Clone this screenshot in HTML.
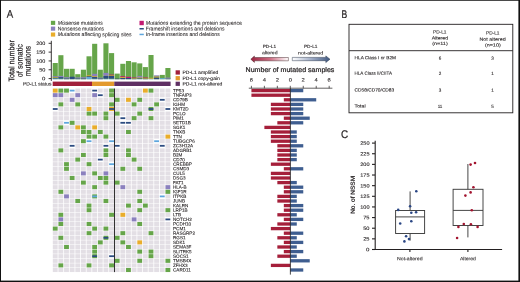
<!DOCTYPE html>
<html><head><meta charset="utf-8"><style>
html,body{margin:0;padding:0;background:#fff;}
body{width:520px;height:282px;overflow:hidden;}
svg{display:block;will-change:transform;}
text{font-family:"Liberation Sans",sans-serif;fill:#231f20;stroke:#231f20;stroke-width:0.1px;}
.b{stroke:#231f20;stroke-width:0.22px;}
.b2{stroke:#231f20;stroke-width:0.06px;}
</style></head><body>
<svg width="520" height="282" viewBox="0 0 520 282">
<rect x="0" y="0" width="520" height="282" fill="#fff"/>
<rect x="0" y="0" width="520" height="1" fill="#4a4a4a"/>
<rect x="0" y="0" width="1" height="282" fill="#111"/>
<rect x="518.4" y="0" width="1.6" height="282" fill="#111"/>
<rect x="0" y="280.6" width="520" height="1.4" fill="#111"/>
<text x="6.84" y="17.70" font-size="11.2" transform="rotate(0.05 6.84 17.70)" textLength="6.42" lengthAdjust="spacingAndGlyphs" class="b">A</text>
<text x="341.44" y="18.00" font-size="11.2" transform="rotate(0.05 341.44 18.00)" textLength="5.72" lengthAdjust="spacingAndGlyphs" class="b">B</text>
<text x="340.94" y="138.10" font-size="11.2" transform="rotate(0.05 340.94 138.10)" textLength="7.12" lengthAdjust="spacingAndGlyphs" class="b">C</text>

<rect x="50.9" y="20.8" width="4.3" height="4.1" fill="#66a54a"/>
<rect x="50.9" y="26.6" width="4.3" height="4.1" fill="#8b80be"/>
<rect x="50.9" y="32.5" width="4.3" height="4.1" fill="#e9ad2b"/>
<text x="57.83" y="24.70" font-size="5.4" transform="rotate(0.05 57.83 24.70)" textLength="44.94" lengthAdjust="spacingAndGlyphs" class="b2"><tspan font-style="italic">Missense</tspan> mutations</text>
<text x="57.83" y="30.40" font-size="5.4" transform="rotate(0.05 57.83 30.40)" textLength="46.34" lengthAdjust="spacingAndGlyphs" class="b2">Nonsense mutations</text>
<text x="57.83" y="36.10" font-size="5.4" transform="rotate(0.05 57.83 36.10)" textLength="73.64" lengthAdjust="spacingAndGlyphs" class="b2"><tspan font-style="italic">Mutations</tspan> affecting splicing sites</text>
<rect x="139.5" y="20.8" width="4.3" height="4.4" fill="#c21a72"/>
<rect x="139.5" y="28" width="4.3" height="1.5" fill="#2c4b80"/>
<rect x="139.5" y="33.7" width="4.3" height="1.5" fill="#5ea6dd"/>
<text x="145.83" y="24.70" font-size="5.4" transform="rotate(0.05 145.83 24.70)" textLength="96.04" lengthAdjust="spacingAndGlyphs" class="b2"><tspan font-style="italic">Mutations</tspan> extending the protein sequence</text>
<text x="145.83" y="30.50" font-size="5.4" transform="rotate(0.05 145.83 30.50)" textLength="78.74" lengthAdjust="spacingAndGlyphs" class="b2">Frameshift insertions and deletions</text>
<text x="145.83" y="35.90" font-size="5.4" transform="rotate(0.05 145.83 35.90)" textLength="73.94" lengthAdjust="spacingAndGlyphs" class="b2">In-frame insertions and deletions</text>

<text transform="translate(14.30,60.80) rotate(-89.95)" x="0" y="0" font-size="8.1" text-anchor="middle" textLength="41.61" lengthAdjust="spacingAndGlyphs" class="b">Total number</text>
<text transform="translate(22.60,60.65) rotate(-89.95)" x="0" y="0" font-size="8.1" text-anchor="middle" textLength="33.11" lengthAdjust="spacingAndGlyphs" class="b">of somatic</text>
<text transform="translate(30.60,61.10) rotate(-89.95)" x="0" y="0" font-size="8.1" text-anchor="middle" textLength="30.41" lengthAdjust="spacingAndGlyphs" class="b">mutations</text>
<g stroke="#231f20" stroke-width="0.9">
<line x1="51.3" y1="40.8" x2="51.3" y2="80.9"/>
<line x1="48.6" y1="78.60" x2="51.3" y2="78.60"/><line x1="48.6" y1="69.77" x2="51.3" y2="69.77"/><line x1="48.6" y1="60.95" x2="51.3" y2="60.95"/><line x1="48.6" y1="52.12" x2="51.3" y2="52.12"/><line x1="48.6" y1="43.30" x2="51.3" y2="43.30"/>
</g>
<text x="45.40" y="80.35" font-size="4.9" transform="rotate(0.05 45.40 80.35)" textLength="3.36" lengthAdjust="spacingAndGlyphs" text-anchor="end">0</text><text x="45.40" y="71.52" font-size="4.9" transform="rotate(0.05 45.40 71.52)" textLength="6.23" lengthAdjust="spacingAndGlyphs" text-anchor="end">50</text><text x="45.40" y="62.70" font-size="4.9" transform="rotate(0.05 45.40 62.70)" textLength="9.10" lengthAdjust="spacingAndGlyphs" text-anchor="end">100</text><text x="45.40" y="53.88" font-size="4.9" transform="rotate(0.05 45.40 53.88)" textLength="9.10" lengthAdjust="spacingAndGlyphs" text-anchor="end">150</text><text x="45.40" y="45.05" font-size="4.9" transform="rotate(0.05 45.40 45.05)" textLength="9.10" lengthAdjust="spacingAndGlyphs" text-anchor="end">200</text>
<rect x="52.70" y="63.00" width="5.1" height="16.20" fill="#66a54a"/><rect x="52.70" y="78.40" width="5.1" height="0.80" fill="#5ea6dd"/><rect x="52.70" y="77.60" width="5.1" height="0.80" fill="#2c4b80"/><rect x="52.70" y="77.00" width="5.1" height="0.60" fill="#e9ad2b"/><rect x="52.70" y="76.20" width="5.1" height="0.80" fill="#8b80be"/><rect x="58.33" y="55.20" width="5.1" height="24.00" fill="#66a54a"/><rect x="58.33" y="78.60" width="5.1" height="0.60" fill="#5ea6dd"/><rect x="58.33" y="77.10" width="5.1" height="1.50" fill="#2c4b80"/><rect x="58.33" y="75.90" width="5.1" height="1.20" fill="#8b80be"/><rect x="63.97" y="68.80" width="5.1" height="10.40" fill="#66a54a"/><rect x="63.97" y="78.40" width="5.1" height="0.80" fill="#2c4b80"/><rect x="63.97" y="77.20" width="5.1" height="1.20" fill="#8b80be"/><rect x="69.60" y="68.80" width="5.1" height="10.40" fill="#66a54a"/><rect x="69.60" y="76.70" width="5.1" height="2.50" fill="#2c4b80"/><rect x="75.23" y="74.20" width="5.1" height="5.00" fill="#66a54a"/><rect x="75.23" y="78.40" width="5.1" height="0.80" fill="#2c4b80"/><rect x="75.23" y="77.40" width="5.1" height="1.00" fill="#8b80be"/><rect x="80.87" y="69.70" width="5.1" height="9.50" fill="#66a54a"/><rect x="80.87" y="78.40" width="5.1" height="0.80" fill="#2c4b80"/><rect x="80.87" y="77.20" width="5.1" height="1.20" fill="#8b80be"/><rect x="86.50" y="56.30" width="5.1" height="22.90" fill="#66a54a"/><rect x="86.50" y="77.00" width="5.1" height="2.20" fill="#5ea6dd"/><rect x="86.50" y="76.20" width="5.1" height="0.80" fill="#2c4b80"/><rect x="86.50" y="75.40" width="5.1" height="0.80" fill="#e9ad2b"/><rect x="92.13" y="43.80" width="5.1" height="35.40" fill="#66a54a"/><rect x="92.13" y="78.60" width="5.1" height="0.60" fill="#5ea6dd"/><rect x="92.13" y="77.00" width="5.1" height="1.60" fill="#2c4b80"/><rect x="92.13" y="76.20" width="5.1" height="0.80" fill="#e9ad2b"/><rect x="92.13" y="73.80" width="5.1" height="2.40" fill="#8b80be"/><rect x="97.76" y="69.70" width="5.1" height="9.50" fill="#66a54a"/><rect x="97.76" y="78.40" width="5.1" height="0.80" fill="#2c4b80"/><rect x="97.76" y="77.60" width="5.1" height="0.80" fill="#8b80be"/><rect x="103.40" y="43.30" width="5.1" height="35.90" fill="#66a54a"/><rect x="103.40" y="78.60" width="5.1" height="0.60" fill="#5ea6dd"/><rect x="103.40" y="76.00" width="5.1" height="2.60" fill="#2c4b80"/><rect x="103.40" y="75.70" width="5.1" height="0.30" fill="#e9ad2b"/><rect x="103.40" y="72.90" width="5.1" height="2.80" fill="#8b80be"/><rect x="109.03" y="53.10" width="5.1" height="26.10" fill="#66a54a"/><rect x="109.03" y="78.60" width="5.1" height="0.60" fill="#5ea6dd"/><rect x="109.03" y="75.80" width="5.1" height="2.80" fill="#2c4b80"/><rect x="109.03" y="75.20" width="5.1" height="0.60" fill="#e9ad2b"/><rect x="109.03" y="74.60" width="5.1" height="0.60" fill="#c21a72"/><rect x="114.66" y="73.60" width="5.1" height="5.60" fill="#66a54a"/><rect x="114.66" y="78.60" width="5.1" height="0.60" fill="#2c4b80"/><rect x="120.30" y="63.80" width="5.1" height="15.40" fill="#66a54a"/><rect x="120.30" y="77.80" width="5.1" height="1.40" fill="#2c4b80"/><rect x="120.30" y="77.00" width="5.1" height="0.80" fill="#e9ad2b"/><rect x="120.30" y="76.20" width="5.1" height="0.80" fill="#c21a72"/><rect x="125.93" y="61.00" width="5.1" height="18.20" fill="#66a54a"/><rect x="125.93" y="78.00" width="5.1" height="1.20" fill="#2c4b80"/><rect x="125.93" y="76.80" width="5.1" height="1.20" fill="#c21a72"/><rect x="131.56" y="62.30" width="5.1" height="16.90" fill="#66a54a"/><rect x="131.56" y="78.50" width="5.1" height="0.70" fill="#2c4b80"/><rect x="131.56" y="78.00" width="5.1" height="0.50" fill="#e9ad2b"/><rect x="131.56" y="77.50" width="5.1" height="0.50" fill="#c21a72"/><rect x="137.20" y="63.40" width="5.1" height="15.80" fill="#66a54a"/><rect x="137.20" y="78.80" width="5.1" height="0.40" fill="#5ea6dd"/><rect x="137.20" y="78.20" width="5.1" height="0.60" fill="#2c4b80"/><rect x="137.20" y="77.40" width="5.1" height="0.80" fill="#e9ad2b"/><rect x="137.20" y="75.90" width="5.1" height="1.50" fill="#8b80be"/><rect x="142.83" y="67.10" width="5.1" height="12.10" fill="#66a54a"/><rect x="142.83" y="78.50" width="5.1" height="0.70" fill="#2c4b80"/><rect x="142.83" y="77.90" width="5.1" height="0.60" fill="#e9ad2b"/><rect x="142.83" y="77.40" width="5.1" height="0.50" fill="#c21a72"/><rect x="148.46" y="55.00" width="5.1" height="24.20" fill="#66a54a"/><rect x="148.46" y="78.60" width="5.1" height="0.60" fill="#5ea6dd"/><rect x="148.46" y="77.80" width="5.1" height="0.80" fill="#e9ad2b"/><rect x="154.09" y="75.80" width="5.1" height="3.40" fill="#66a54a"/><rect x="154.09" y="77.40" width="5.1" height="1.80" fill="#2c4b80"/><rect x="154.09" y="76.40" width="5.1" height="1.00" fill="#e9ad2b"/><rect x="154.09" y="75.40" width="5.1" height="1.00" fill="#8b80be"/><rect x="159.73" y="74.90" width="5.1" height="4.30" fill="#66a54a"/><rect x="159.73" y="78.20" width="5.1" height="1.00" fill="#5ea6dd"/><rect x="165.36" y="68.00" width="5.1" height="11.20" fill="#66a54a"/><rect x="165.36" y="78.60" width="5.1" height="0.60" fill="#2c4b80"/><rect x="165.36" y="77.60" width="5.1" height="1.00" fill="#8b80be"/>
<text x="22.96" y="85.60" font-size="4.8" transform="rotate(0.05 22.96 85.60)" textLength="28.48" lengthAdjust="spacingAndGlyphs">PD-L1 status</text>
<rect x="52.7" y="81.6" width="39.3" height="4.4" fill="#a1203b"/>
<rect x="92" y="81.6" width="22.3" height="4.4" fill="#e39a2d"/>
<rect x="114.3" y="81.6" width="56.3" height="4.4" fill="#5f2f63"/>
<rect x="175.6" y="70.3" width="4.3" height="4.3" fill="#a1203b"/>
<rect x="175.6" y="76.1" width="4.3" height="4.2" fill="#e39a2d"/>
<rect x="175.6" y="81.7" width="4.3" height="4.2" fill="#5f2f63"/>
<text x="182.46" y="74.10" font-size="4.8" transform="rotate(0.05 182.46 74.10)" textLength="35.78" lengthAdjust="spacingAndGlyphs">PD-L1 amplified</text>
<text x="182.46" y="79.90" font-size="4.8" transform="rotate(0.05 182.46 79.90)" textLength="37.38" lengthAdjust="spacingAndGlyphs">PD-L1 copy-gain</text>
<text x="182.46" y="85.50" font-size="4.8" transform="rotate(0.05 182.46 85.50)" textLength="39.98" lengthAdjust="spacingAndGlyphs">PD-L1 not-altered</text>
<rect x="52.80" y="88.55" width="4.85" height="4.1" fill="#e9ad2b"/><rect x="58.43" y="88.55" width="4.85" height="4.1" fill="#66a54a"/><rect x="64.07" y="88.55" width="4.85" height="4.1" fill="#66a54a"/><rect x="69.70" y="89.70" width="4.85" height="1.8" fill="#5ea6dd"/><rect x="75.33" y="88.55" width="4.85" height="4.1" fill="#e3dfe5"/><rect x="80.97" y="88.55" width="4.85" height="4.1" fill="#e3dfe5"/><rect x="86.60" y="88.55" width="4.85" height="4.1" fill="#e3dfe5"/><rect x="92.23" y="89.70" width="4.85" height="1.8" fill="#2c4b80"/><rect x="97.86" y="88.55" width="4.85" height="4.1" fill="#e3dfe5"/><rect x="103.50" y="88.55" width="4.85" height="4.1" fill="#e3dfe5"/><rect x="109.13" y="88.55" width="4.85" height="4.1" fill="#66a54a"/><rect x="114.76" y="88.55" width="4.85" height="4.1" fill="#e3dfe5"/><rect x="120.40" y="88.55" width="4.85" height="4.1" fill="#e3dfe5"/><rect x="126.03" y="88.55" width="4.85" height="4.1" fill="#e3dfe5"/><rect x="131.66" y="88.55" width="4.85" height="4.1" fill="#e3dfe5"/><rect x="137.30" y="88.55" width="4.85" height="4.1" fill="#e3dfe5"/><rect x="142.93" y="88.55" width="4.85" height="4.1" fill="#e9ad2b"/><rect x="148.56" y="88.55" width="4.85" height="4.1" fill="#66a54a"/><rect x="154.19" y="88.55" width="4.85" height="4.1" fill="#e3dfe5"/><rect x="159.83" y="88.55" width="4.85" height="4.1" fill="#e3dfe5"/><rect x="165.46" y="88.55" width="4.85" height="4.1" fill="#e3dfe5"/><rect x="52.80" y="93.15" width="4.85" height="4.1" fill="#8b80be"/><rect x="58.43" y="93.15" width="4.85" height="4.1" fill="#8b80be"/><rect x="64.07" y="93.15" width="4.85" height="4.1" fill="#e3dfe5"/><rect x="69.70" y="93.15" width="4.85" height="4.1" fill="#e3dfe5"/><rect x="75.33" y="93.15" width="4.85" height="4.1" fill="#8b80be"/><rect x="80.97" y="93.15" width="4.85" height="4.1" fill="#e3dfe5"/><rect x="86.60" y="93.15" width="4.85" height="4.1" fill="#e3dfe5"/><rect x="92.23" y="93.15" width="4.85" height="4.1" fill="#8b80be"/><rect x="97.86" y="94.30" width="4.85" height="1.8" fill="#2c4b80"/><rect x="103.50" y="93.15" width="4.85" height="4.1" fill="#e3dfe5"/><rect x="109.13" y="93.15" width="4.85" height="4.1" fill="#66a54a"/><rect x="114.76" y="93.15" width="4.85" height="4.1" fill="#e3dfe5"/><rect x="120.40" y="93.15" width="4.85" height="4.1" fill="#e3dfe5"/><rect x="126.03" y="93.15" width="4.85" height="4.1" fill="#e3dfe5"/><rect x="131.66" y="93.15" width="4.85" height="4.1" fill="#e3dfe5"/><rect x="137.30" y="93.15" width="4.85" height="4.1" fill="#e3dfe5"/><rect x="142.93" y="93.15" width="4.85" height="4.1" fill="#e3dfe5"/><rect x="148.56" y="93.15" width="4.85" height="4.1" fill="#e3dfe5"/><rect x="154.19" y="93.15" width="4.85" height="4.1" fill="#e3dfe5"/><rect x="159.83" y="93.15" width="4.85" height="4.1" fill="#e3dfe5"/><rect x="165.46" y="93.15" width="4.85" height="4.1" fill="#e3dfe5"/><rect x="52.80" y="97.75" width="4.85" height="4.1" fill="#e3dfe5"/><rect x="58.43" y="97.75" width="4.85" height="4.1" fill="#e3dfe5"/><rect x="64.07" y="97.75" width="4.85" height="4.1" fill="#e3dfe5"/><rect x="69.70" y="97.75" width="4.85" height="4.1" fill="#8b80be"/><rect x="75.33" y="97.75" width="4.85" height="4.1" fill="#e3dfe5"/><rect x="80.97" y="97.75" width="4.85" height="4.1" fill="#e3dfe5"/><rect x="86.60" y="97.75" width="4.85" height="4.1" fill="#e3dfe5"/><rect x="92.23" y="97.75" width="4.85" height="4.1" fill="#e3dfe5"/><rect x="97.86" y="97.75" width="4.85" height="4.1" fill="#e3dfe5"/><rect x="103.50" y="97.75" width="4.85" height="4.1" fill="#e3dfe5"/><rect x="109.13" y="97.75" width="4.85" height="4.1" fill="#e3dfe5"/><rect x="114.76" y="97.75" width="4.85" height="4.1" fill="#66a54a"/><rect x="120.40" y="97.75" width="4.85" height="4.1" fill="#e3dfe5"/><rect x="126.03" y="97.75" width="4.85" height="4.1" fill="#e9ad2b"/><rect x="131.66" y="97.75" width="4.85" height="4.1" fill="#e3dfe5"/><rect x="137.30" y="97.75" width="4.85" height="4.1" fill="#66a54a"/><rect x="142.93" y="97.75" width="4.85" height="4.1" fill="#e3dfe5"/><rect x="148.56" y="97.75" width="4.85" height="4.1" fill="#e3dfe5"/><rect x="154.19" y="97.75" width="4.85" height="4.1" fill="#e3dfe5"/><rect x="159.83" y="98.90" width="4.85" height="1.8" fill="#2c4b80"/><rect x="165.46" y="97.75" width="4.85" height="4.1" fill="#e3dfe5"/><rect x="52.80" y="102.35" width="4.85" height="4.1" fill="#e3dfe5"/><rect x="58.43" y="102.35" width="4.85" height="4.1" fill="#66a54a"/><rect x="64.07" y="102.35" width="4.85" height="4.1" fill="#e3dfe5"/><rect x="69.70" y="102.35" width="4.85" height="4.1" fill="#e3dfe5"/><rect x="75.33" y="102.35" width="4.85" height="4.1" fill="#66a54a"/><rect x="80.97" y="102.35" width="4.85" height="4.1" fill="#e3dfe5"/><rect x="86.60" y="102.35" width="4.85" height="4.1" fill="#e3dfe5"/><rect x="92.23" y="102.35" width="4.85" height="4.1" fill="#e3dfe5"/><rect x="97.86" y="102.35" width="4.85" height="4.1" fill="#e3dfe5"/><rect x="103.50" y="102.35" width="4.85" height="4.1" fill="#e3dfe5"/><rect x="109.13" y="102.35" width="4.85" height="4.1" fill="#66a54a"/><rect x="114.76" y="102.35" width="4.85" height="4.1" fill="#e3dfe5"/><rect x="120.40" y="102.35" width="4.85" height="4.1" fill="#e3dfe5"/><rect x="126.03" y="102.35" width="4.85" height="4.1" fill="#e3dfe5"/><rect x="131.66" y="102.35" width="4.85" height="4.1" fill="#66a54a"/><rect x="137.30" y="102.35" width="4.85" height="4.1" fill="#e3dfe5"/><rect x="142.93" y="102.35" width="4.85" height="4.1" fill="#e3dfe5"/><rect x="148.56" y="102.35" width="4.85" height="4.1" fill="#e3dfe5"/><rect x="154.19" y="102.35" width="4.85" height="4.1" fill="#66a54a"/><rect x="159.83" y="102.35" width="4.85" height="4.1" fill="#e3dfe5"/><rect x="165.46" y="102.35" width="4.85" height="4.1" fill="#e3dfe5"/><rect x="52.80" y="108.10" width="4.85" height="1.8" fill="#2c4b80"/><rect x="58.43" y="106.95" width="4.85" height="4.1" fill="#e3dfe5"/><rect x="64.07" y="106.95" width="4.85" height="4.1" fill="#e3dfe5"/><rect x="69.70" y="106.95" width="4.85" height="4.1" fill="#e3dfe5"/><rect x="75.33" y="106.95" width="4.85" height="4.1" fill="#e3dfe5"/><rect x="80.97" y="106.95" width="4.85" height="4.1" fill="#e3dfe5"/><rect x="86.60" y="106.95" width="4.85" height="4.1" fill="#e9ad2b"/><rect x="92.23" y="106.95" width="4.85" height="4.1" fill="#e3dfe5"/><rect x="97.86" y="106.95" width="4.85" height="4.1" fill="#e3dfe5"/><rect x="103.50" y="106.95" width="4.85" height="4.1" fill="#e3dfe5"/><rect x="109.13" y="106.95" width="4.85" height="4.1" fill="#e9ad2b"/><rect x="109.13" y="108.10" width="4.85" height="1.8" fill="#2c4b80"/><rect x="114.76" y="106.95" width="4.85" height="4.1" fill="#e3dfe5"/><rect x="120.40" y="106.95" width="4.85" height="4.1" fill="#e3dfe5"/><rect x="126.03" y="106.95" width="4.85" height="4.1" fill="#e3dfe5"/><rect x="131.66" y="106.95" width="4.85" height="4.1" fill="#e3dfe5"/><rect x="137.30" y="106.95" width="4.85" height="4.1" fill="#e3dfe5"/><rect x="142.93" y="106.95" width="4.85" height="4.1" fill="#e3dfe5"/><rect x="148.56" y="106.95" width="4.85" height="4.1" fill="#66a54a"/><rect x="148.56" y="108.10" width="4.85" height="1.8" fill="#2c4b80"/><rect x="154.19" y="106.95" width="4.85" height="4.1" fill="#e3dfe5"/><rect x="159.83" y="106.95" width="4.85" height="4.1" fill="#e3dfe5"/><rect x="165.46" y="108.10" width="4.85" height="1.8" fill="#2c4b80"/><rect x="52.80" y="111.55" width="4.85" height="4.1" fill="#e3dfe5"/><rect x="58.43" y="111.55" width="4.85" height="4.1" fill="#e3dfe5"/><rect x="64.07" y="111.55" width="4.85" height="4.1" fill="#e3dfe5"/><rect x="69.70" y="111.55" width="4.85" height="4.1" fill="#e3dfe5"/><rect x="75.33" y="111.55" width="4.85" height="4.1" fill="#e3dfe5"/><rect x="80.97" y="111.55" width="4.85" height="4.1" fill="#e3dfe5"/><rect x="86.60" y="111.55" width="4.85" height="4.1" fill="#66a54a"/><rect x="92.23" y="111.55" width="4.85" height="4.1" fill="#66a54a"/><rect x="97.86" y="111.55" width="4.85" height="4.1" fill="#e3dfe5"/><rect x="103.50" y="111.55" width="4.85" height="4.1" fill="#66a54a"/><rect x="109.13" y="111.55" width="4.85" height="4.1" fill="#e3dfe5"/><rect x="114.76" y="111.55" width="4.85" height="4.1" fill="#66a54a"/><rect x="120.40" y="111.55" width="4.85" height="4.1" fill="#e3dfe5"/><rect x="126.03" y="111.55" width="4.85" height="4.1" fill="#e3dfe5"/><rect x="131.66" y="111.55" width="4.85" height="4.1" fill="#e3dfe5"/><rect x="137.30" y="111.55" width="4.85" height="4.1" fill="#66a54a"/><rect x="142.93" y="111.55" width="4.85" height="4.1" fill="#e3dfe5"/><rect x="148.56" y="111.55" width="4.85" height="4.1" fill="#e3dfe5"/><rect x="154.19" y="111.55" width="4.85" height="4.1" fill="#e3dfe5"/><rect x="159.83" y="111.55" width="4.85" height="4.1" fill="#e3dfe5"/><rect x="165.46" y="111.55" width="4.85" height="4.1" fill="#e3dfe5"/><rect x="52.80" y="116.15" width="4.85" height="4.1" fill="#e3dfe5"/><rect x="58.43" y="116.15" width="4.85" height="4.1" fill="#e3dfe5"/><rect x="64.07" y="116.15" width="4.85" height="4.1" fill="#e3dfe5"/><rect x="69.70" y="116.15" width="4.85" height="4.1" fill="#e3dfe5"/><rect x="75.33" y="116.15" width="4.85" height="4.1" fill="#e3dfe5"/><rect x="80.97" y="116.15" width="4.85" height="4.1" fill="#e3dfe5"/><rect x="86.60" y="116.15" width="4.85" height="4.1" fill="#e3dfe5"/><rect x="92.23" y="116.15" width="4.85" height="4.1" fill="#e3dfe5"/><rect x="97.86" y="116.15" width="4.85" height="4.1" fill="#e3dfe5"/><rect x="103.50" y="116.15" width="4.85" height="4.1" fill="#66a54a"/><rect x="109.13" y="116.15" width="4.85" height="4.1" fill="#e3dfe5"/><rect x="114.76" y="116.15" width="4.85" height="4.1" fill="#e3dfe5"/><rect x="120.40" y="117.30" width="4.85" height="1.8" fill="#2c4b80"/><rect x="126.03" y="116.15" width="4.85" height="4.1" fill="#e3dfe5"/><rect x="131.66" y="116.15" width="4.85" height="4.1" fill="#66a54a"/><rect x="137.30" y="116.15" width="4.85" height="4.1" fill="#e3dfe5"/><rect x="142.93" y="116.15" width="4.85" height="4.1" fill="#e3dfe5"/><rect x="148.56" y="116.15" width="4.85" height="4.1" fill="#66a54a"/><rect x="154.19" y="116.15" width="4.85" height="4.1" fill="#e3dfe5"/><rect x="159.83" y="116.15" width="4.85" height="4.1" fill="#e3dfe5"/><rect x="165.46" y="116.15" width="4.85" height="4.1" fill="#e3dfe5"/><rect x="52.80" y="120.75" width="4.85" height="4.1" fill="#e3dfe5"/><rect x="58.43" y="120.75" width="4.85" height="4.1" fill="#e3dfe5"/><rect x="64.07" y="121.90" width="4.85" height="1.8" fill="#5ea6dd"/><rect x="69.70" y="120.75" width="4.85" height="4.1" fill="#66a54a"/><rect x="75.33" y="120.75" width="4.85" height="4.1" fill="#e3dfe5"/><rect x="80.97" y="120.75" width="4.85" height="4.1" fill="#e3dfe5"/><rect x="86.60" y="120.75" width="4.85" height="4.1" fill="#e3dfe5"/><rect x="92.23" y="120.75" width="4.85" height="4.1" fill="#e3dfe5"/><rect x="97.86" y="120.75" width="4.85" height="4.1" fill="#e3dfe5"/><rect x="103.50" y="120.75" width="4.85" height="4.1" fill="#e3dfe5"/><rect x="109.13" y="120.75" width="4.85" height="4.1" fill="#e3dfe5"/><rect x="114.76" y="120.75" width="4.85" height="4.1" fill="#e3dfe5"/><rect x="120.40" y="121.90" width="4.85" height="1.8" fill="#2c4b80"/><rect x="126.03" y="121.90" width="4.85" height="1.8" fill="#2c4b80"/><rect x="131.66" y="120.75" width="4.85" height="4.1" fill="#e3dfe5"/><rect x="137.30" y="120.75" width="4.85" height="4.1" fill="#e3dfe5"/><rect x="142.93" y="120.75" width="4.85" height="4.1" fill="#e3dfe5"/><rect x="148.56" y="120.75" width="4.85" height="4.1" fill="#e3dfe5"/><rect x="154.19" y="120.75" width="4.85" height="4.1" fill="#e3dfe5"/><rect x="159.83" y="120.75" width="4.85" height="4.1" fill="#e3dfe5"/><rect x="165.46" y="120.75" width="4.85" height="4.1" fill="#e3dfe5"/><rect x="52.80" y="125.35" width="4.85" height="4.1" fill="#e3dfe5"/><rect x="58.43" y="125.35" width="4.85" height="4.1" fill="#66a54a"/><rect x="64.07" y="125.35" width="4.85" height="4.1" fill="#e3dfe5"/><rect x="69.70" y="125.35" width="4.85" height="4.1" fill="#e3dfe5"/><rect x="75.33" y="125.35" width="4.85" height="4.1" fill="#e9ad2b"/><rect x="80.97" y="125.35" width="4.85" height="4.1" fill="#66a54a"/><rect x="86.60" y="125.35" width="4.85" height="4.1" fill="#e3dfe5"/><rect x="92.23" y="125.35" width="4.85" height="4.1" fill="#e9ad2b"/><rect x="97.86" y="125.35" width="4.85" height="4.1" fill="#e3dfe5"/><rect x="103.50" y="125.35" width="4.85" height="4.1" fill="#e3dfe5"/><rect x="109.13" y="125.35" width="4.85" height="4.1" fill="#e3dfe5"/><rect x="114.76" y="125.35" width="4.85" height="4.1" fill="#e3dfe5"/><rect x="120.40" y="125.35" width="4.85" height="4.1" fill="#e3dfe5"/><rect x="126.03" y="125.35" width="4.85" height="4.1" fill="#e3dfe5"/><rect x="131.66" y="125.35" width="4.85" height="4.1" fill="#e3dfe5"/><rect x="137.30" y="125.35" width="4.85" height="4.1" fill="#e3dfe5"/><rect x="142.93" y="125.35" width="4.85" height="4.1" fill="#e3dfe5"/><rect x="148.56" y="125.35" width="4.85" height="4.1" fill="#e3dfe5"/><rect x="154.19" y="125.35" width="4.85" height="4.1" fill="#e3dfe5"/><rect x="159.83" y="125.35" width="4.85" height="4.1" fill="#e3dfe5"/><rect x="165.46" y="125.35" width="4.85" height="4.1" fill="#e3dfe5"/><rect x="52.80" y="129.95" width="4.85" height="4.1" fill="#e3dfe5"/><rect x="58.43" y="129.95" width="4.85" height="4.1" fill="#e3dfe5"/><rect x="64.07" y="129.95" width="4.85" height="4.1" fill="#e3dfe5"/><rect x="69.70" y="129.95" width="4.85" height="4.1" fill="#e3dfe5"/><rect x="75.33" y="129.95" width="4.85" height="4.1" fill="#e3dfe5"/><rect x="80.97" y="129.95" width="4.85" height="4.1" fill="#66a54a"/><rect x="86.60" y="129.95" width="4.85" height="4.1" fill="#66a54a"/><rect x="92.23" y="129.95" width="4.85" height="4.1" fill="#e3dfe5"/><rect x="97.86" y="129.95" width="4.85" height="4.1" fill="#66a54a"/><rect x="103.50" y="129.95" width="4.85" height="4.1" fill="#e3dfe5"/><rect x="109.13" y="129.95" width="4.85" height="4.1" fill="#e3dfe5"/><rect x="114.76" y="129.95" width="4.85" height="4.1" fill="#e3dfe5"/><rect x="120.40" y="129.95" width="4.85" height="4.1" fill="#e3dfe5"/><rect x="126.03" y="129.95" width="4.85" height="4.1" fill="#66a54a"/><rect x="131.66" y="129.95" width="4.85" height="4.1" fill="#e3dfe5"/><rect x="137.30" y="129.95" width="4.85" height="4.1" fill="#e3dfe5"/><rect x="142.93" y="129.95" width="4.85" height="4.1" fill="#e3dfe5"/><rect x="148.56" y="129.95" width="4.85" height="4.1" fill="#e3dfe5"/><rect x="154.19" y="129.95" width="4.85" height="4.1" fill="#e3dfe5"/><rect x="159.83" y="129.95" width="4.85" height="4.1" fill="#e3dfe5"/><rect x="165.46" y="129.95" width="4.85" height="4.1" fill="#e3dfe5"/><rect x="52.80" y="134.55" width="4.85" height="4.1" fill="#e3dfe5"/><rect x="58.43" y="134.55" width="4.85" height="4.1" fill="#e3dfe5"/><rect x="64.07" y="134.55" width="4.85" height="4.1" fill="#e3dfe5"/><rect x="69.70" y="134.55" width="4.85" height="4.1" fill="#e3dfe5"/><rect x="75.33" y="134.55" width="4.85" height="4.1" fill="#e3dfe5"/><rect x="80.97" y="134.55" width="4.85" height="4.1" fill="#e3dfe5"/><rect x="86.60" y="134.55" width="4.85" height="4.1" fill="#66a54a"/><rect x="92.23" y="134.55" width="4.85" height="4.1" fill="#66a54a"/><rect x="97.86" y="134.55" width="4.85" height="4.1" fill="#e3dfe5"/><rect x="103.50" y="134.55" width="4.85" height="4.1" fill="#66a54a"/><rect x="109.13" y="134.55" width="4.85" height="4.1" fill="#e3dfe5"/><rect x="114.76" y="134.55" width="4.85" height="4.1" fill="#e3dfe5"/><rect x="120.40" y="134.55" width="4.85" height="4.1" fill="#e3dfe5"/><rect x="126.03" y="134.55" width="4.85" height="4.1" fill="#e3dfe5"/><rect x="131.66" y="134.55" width="4.85" height="4.1" fill="#e3dfe5"/><rect x="137.30" y="134.55" width="4.85" height="4.1" fill="#e3dfe5"/><rect x="142.93" y="134.55" width="4.85" height="4.1" fill="#e3dfe5"/><rect x="148.56" y="134.55" width="4.85" height="4.1" fill="#e3dfe5"/><rect x="154.19" y="134.55" width="4.85" height="4.1" fill="#e3dfe5"/><rect x="159.83" y="134.55" width="4.85" height="4.1" fill="#e3dfe5"/><rect x="165.46" y="134.55" width="4.85" height="4.1" fill="#e9ad2b"/><rect x="52.80" y="139.15" width="4.85" height="4.1" fill="#e3dfe5"/><rect x="58.43" y="139.15" width="4.85" height="4.1" fill="#e3dfe5"/><rect x="64.07" y="139.15" width="4.85" height="4.1" fill="#e3dfe5"/><rect x="69.70" y="139.15" width="4.85" height="4.1" fill="#e3dfe5"/><rect x="75.33" y="139.15" width="4.85" height="4.1" fill="#e3dfe5"/><rect x="80.97" y="139.15" width="4.85" height="4.1" fill="#66a54a"/><rect x="86.60" y="140.30" width="4.85" height="1.8" fill="#5ea6dd"/><rect x="92.23" y="139.15" width="4.85" height="4.1" fill="#e3dfe5"/><rect x="97.86" y="139.15" width="4.85" height="4.1" fill="#e3dfe5"/><rect x="103.50" y="139.15" width="4.85" height="4.1" fill="#e3dfe5"/><rect x="109.13" y="140.30" width="4.85" height="1.8" fill="#5ea6dd"/><rect x="114.76" y="139.15" width="4.85" height="4.1" fill="#e3dfe5"/><rect x="120.40" y="139.15" width="4.85" height="4.1" fill="#e3dfe5"/><rect x="126.03" y="139.15" width="4.85" height="4.1" fill="#e3dfe5"/><rect x="131.66" y="139.15" width="4.85" height="4.1" fill="#e3dfe5"/><rect x="137.30" y="139.15" width="4.85" height="4.1" fill="#e3dfe5"/><rect x="142.93" y="139.15" width="4.85" height="4.1" fill="#e3dfe5"/><rect x="148.56" y="139.15" width="4.85" height="4.1" fill="#e3dfe5"/><rect x="154.19" y="140.30" width="4.85" height="1.8" fill="#5ea6dd"/><rect x="159.83" y="139.15" width="4.85" height="4.1" fill="#e3dfe5"/><rect x="165.46" y="139.15" width="4.85" height="4.1" fill="#e3dfe5"/><rect x="52.80" y="143.75" width="4.85" height="4.1" fill="#e3dfe5"/><rect x="58.43" y="143.75" width="4.85" height="4.1" fill="#e3dfe5"/><rect x="64.07" y="143.75" width="4.85" height="4.1" fill="#e3dfe5"/><rect x="69.70" y="144.90" width="4.85" height="1.8" fill="#2c4b80"/><rect x="75.33" y="143.75" width="4.85" height="4.1" fill="#e3dfe5"/><rect x="80.97" y="143.75" width="4.85" height="4.1" fill="#e3dfe5"/><rect x="86.60" y="143.75" width="4.85" height="4.1" fill="#e3dfe5"/><rect x="92.23" y="143.75" width="4.85" height="4.1" fill="#e3dfe5"/><rect x="97.86" y="143.75" width="4.85" height="4.1" fill="#e3dfe5"/><rect x="103.50" y="144.90" width="4.85" height="1.8" fill="#2c4b80"/><rect x="109.13" y="143.75" width="4.85" height="4.1" fill="#e3dfe5"/><rect x="114.76" y="144.90" width="4.85" height="1.8" fill="#2c4b80"/><rect x="120.40" y="143.75" width="4.85" height="4.1" fill="#e3dfe5"/><rect x="126.03" y="143.75" width="4.85" height="4.1" fill="#e3dfe5"/><rect x="131.66" y="143.75" width="4.85" height="4.1" fill="#e3dfe5"/><rect x="137.30" y="143.75" width="4.85" height="4.1" fill="#e3dfe5"/><rect x="142.93" y="143.75" width="4.85" height="4.1" fill="#e3dfe5"/><rect x="148.56" y="143.75" width="4.85" height="4.1" fill="#e3dfe5"/><rect x="154.19" y="143.75" width="4.85" height="4.1" fill="#e3dfe5"/><rect x="159.83" y="144.90" width="4.85" height="1.8" fill="#2c4b80"/><rect x="165.46" y="143.75" width="4.85" height="4.1" fill="#e3dfe5"/><rect x="52.80" y="148.35" width="4.85" height="4.1" fill="#e3dfe5"/><rect x="58.43" y="148.35" width="4.85" height="4.1" fill="#66a54a"/><rect x="64.07" y="148.35" width="4.85" height="4.1" fill="#e3dfe5"/><rect x="69.70" y="148.35" width="4.85" height="4.1" fill="#e3dfe5"/><rect x="75.33" y="148.35" width="4.85" height="4.1" fill="#e3dfe5"/><rect x="80.97" y="148.35" width="4.85" height="4.1" fill="#e3dfe5"/><rect x="86.60" y="148.35" width="4.85" height="4.1" fill="#e3dfe5"/><rect x="92.23" y="148.35" width="4.85" height="4.1" fill="#e3dfe5"/><rect x="97.86" y="148.35" width="4.85" height="4.1" fill="#e3dfe5"/><rect x="103.50" y="148.35" width="4.85" height="4.1" fill="#66a54a"/><rect x="109.13" y="148.35" width="4.85" height="4.1" fill="#e3dfe5"/><rect x="114.76" y="148.35" width="4.85" height="4.1" fill="#e3dfe5"/><rect x="120.40" y="148.35" width="4.85" height="4.1" fill="#e3dfe5"/><rect x="126.03" y="148.35" width="4.85" height="4.1" fill="#66a54a"/><rect x="131.66" y="148.35" width="4.85" height="4.1" fill="#e3dfe5"/><rect x="137.30" y="148.35" width="4.85" height="4.1" fill="#e3dfe5"/><rect x="142.93" y="148.35" width="4.85" height="4.1" fill="#e3dfe5"/><rect x="148.56" y="148.35" width="4.85" height="4.1" fill="#e3dfe5"/><rect x="154.19" y="148.35" width="4.85" height="4.1" fill="#e3dfe5"/><rect x="159.83" y="148.35" width="4.85" height="4.1" fill="#e3dfe5"/><rect x="165.46" y="148.35" width="4.85" height="4.1" fill="#e3dfe5"/><rect x="52.80" y="152.95" width="4.85" height="4.1" fill="#e3dfe5"/><rect x="58.43" y="152.95" width="4.85" height="4.1" fill="#e3dfe5"/><rect x="64.07" y="152.95" width="4.85" height="4.1" fill="#e3dfe5"/><rect x="69.70" y="152.95" width="4.85" height="4.1" fill="#e3dfe5"/><rect x="75.33" y="152.95" width="4.85" height="4.1" fill="#e3dfe5"/><rect x="80.97" y="152.95" width="4.85" height="4.1" fill="#66a54a"/><rect x="86.60" y="152.95" width="4.85" height="4.1" fill="#e3dfe5"/><rect x="92.23" y="152.95" width="4.85" height="4.1" fill="#e3dfe5"/><rect x="97.86" y="152.95" width="4.85" height="4.1" fill="#e3dfe5"/><rect x="103.50" y="152.95" width="4.85" height="4.1" fill="#66a54a"/><rect x="109.13" y="152.95" width="4.85" height="4.1" fill="#e3dfe5"/><rect x="114.76" y="152.95" width="4.85" height="4.1" fill="#e3dfe5"/><rect x="120.40" y="152.95" width="4.85" height="4.1" fill="#e3dfe5"/><rect x="126.03" y="152.95" width="4.85" height="4.1" fill="#66a54a"/><rect x="131.66" y="152.95" width="4.85" height="4.1" fill="#e3dfe5"/><rect x="137.30" y="152.95" width="4.85" height="4.1" fill="#e3dfe5"/><rect x="142.93" y="152.95" width="4.85" height="4.1" fill="#e3dfe5"/><rect x="148.56" y="152.95" width="4.85" height="4.1" fill="#e3dfe5"/><rect x="154.19" y="152.95" width="4.85" height="4.1" fill="#e3dfe5"/><rect x="159.83" y="152.95" width="4.85" height="4.1" fill="#e3dfe5"/><rect x="165.46" y="152.95" width="4.85" height="4.1" fill="#e3dfe5"/><rect x="52.80" y="157.55" width="4.85" height="4.1" fill="#e3dfe5"/><rect x="58.43" y="157.55" width="4.85" height="4.1" fill="#e3dfe5"/><rect x="64.07" y="157.55" width="4.85" height="4.1" fill="#e3dfe5"/><rect x="69.70" y="157.55" width="4.85" height="4.1" fill="#e3dfe5"/><rect x="75.33" y="157.55" width="4.85" height="4.1" fill="#66a54a"/><rect x="80.97" y="157.55" width="4.85" height="4.1" fill="#e3dfe5"/><rect x="86.60" y="157.55" width="4.85" height="4.1" fill="#e3dfe5"/><rect x="92.23" y="157.55" width="4.85" height="4.1" fill="#e3dfe5"/><rect x="97.86" y="158.70" width="4.85" height="1.8" fill="#2c4b80"/><rect x="103.50" y="157.55" width="4.85" height="4.1" fill="#e3dfe5"/><rect x="109.13" y="157.55" width="4.85" height="4.1" fill="#e3dfe5"/><rect x="114.76" y="157.55" width="4.85" height="4.1" fill="#e3dfe5"/><rect x="120.40" y="157.55" width="4.85" height="4.1" fill="#e3dfe5"/><rect x="126.03" y="157.55" width="4.85" height="4.1" fill="#e3dfe5"/><rect x="131.66" y="157.55" width="4.85" height="4.1" fill="#66a54a"/><rect x="137.30" y="157.55" width="4.85" height="4.1" fill="#e3dfe5"/><rect x="142.93" y="157.55" width="4.85" height="4.1" fill="#e3dfe5"/><rect x="148.56" y="157.55" width="4.85" height="4.1" fill="#e3dfe5"/><rect x="154.19" y="157.55" width="4.85" height="4.1" fill="#e3dfe5"/><rect x="159.83" y="157.55" width="4.85" height="4.1" fill="#e3dfe5"/><rect x="165.46" y="157.55" width="4.85" height="4.1" fill="#e3dfe5"/><rect x="52.80" y="162.15" width="4.85" height="4.1" fill="#e3dfe5"/><rect x="58.43" y="162.15" width="4.85" height="4.1" fill="#e3dfe5"/><rect x="64.07" y="162.15" width="4.85" height="4.1" fill="#66a54a"/><rect x="69.70" y="162.15" width="4.85" height="4.1" fill="#e3dfe5"/><rect x="75.33" y="162.15" width="4.85" height="4.1" fill="#e3dfe5"/><rect x="80.97" y="162.15" width="4.85" height="4.1" fill="#e3dfe5"/><rect x="86.60" y="162.15" width="4.85" height="4.1" fill="#66a54a"/><rect x="92.23" y="162.15" width="4.85" height="4.1" fill="#e3dfe5"/><rect x="97.86" y="162.15" width="4.85" height="4.1" fill="#e3dfe5"/><rect x="103.50" y="162.15" width="4.85" height="4.1" fill="#e3dfe5"/><rect x="109.13" y="163.30" width="4.85" height="1.8" fill="#5ea6dd"/><rect x="114.76" y="162.15" width="4.85" height="4.1" fill="#e3dfe5"/><rect x="120.40" y="162.15" width="4.85" height="4.1" fill="#e3dfe5"/><rect x="126.03" y="162.15" width="4.85" height="4.1" fill="#e3dfe5"/><rect x="131.66" y="162.15" width="4.85" height="4.1" fill="#e3dfe5"/><rect x="137.30" y="162.15" width="4.85" height="4.1" fill="#e3dfe5"/><rect x="142.93" y="162.15" width="4.85" height="4.1" fill="#e3dfe5"/><rect x="148.56" y="162.15" width="4.85" height="4.1" fill="#e3dfe5"/><rect x="154.19" y="162.15" width="4.85" height="4.1" fill="#e3dfe5"/><rect x="159.83" y="162.15" width="4.85" height="4.1" fill="#e3dfe5"/><rect x="165.46" y="162.15" width="4.85" height="4.1" fill="#e3dfe5"/><rect x="52.80" y="166.75" width="4.85" height="4.1" fill="#e3dfe5"/><rect x="58.43" y="166.75" width="4.85" height="4.1" fill="#e3dfe5"/><rect x="64.07" y="166.75" width="4.85" height="4.1" fill="#66a54a"/><rect x="69.70" y="166.75" width="4.85" height="4.1" fill="#e3dfe5"/><rect x="75.33" y="166.75" width="4.85" height="4.1" fill="#e3dfe5"/><rect x="80.97" y="166.75" width="4.85" height="4.1" fill="#e3dfe5"/><rect x="86.60" y="166.75" width="4.85" height="4.1" fill="#e3dfe5"/><rect x="92.23" y="166.75" width="4.85" height="4.1" fill="#e3dfe5"/><rect x="97.86" y="166.75" width="4.85" height="4.1" fill="#e3dfe5"/><rect x="103.50" y="166.75" width="4.85" height="4.1" fill="#e3dfe5"/><rect x="109.13" y="166.75" width="4.85" height="4.1" fill="#e3dfe5"/><rect x="114.76" y="166.75" width="4.85" height="4.1" fill="#e3dfe5"/><rect x="120.40" y="166.75" width="4.85" height="4.1" fill="#66a54a"/><rect x="126.03" y="166.75" width="4.85" height="4.1" fill="#e3dfe5"/><rect x="131.66" y="166.75" width="4.85" height="4.1" fill="#e3dfe5"/><rect x="137.30" y="166.75" width="4.85" height="4.1" fill="#66a54a"/><rect x="142.93" y="166.75" width="4.85" height="4.1" fill="#e3dfe5"/><rect x="148.56" y="166.75" width="4.85" height="4.1" fill="#e3dfe5"/><rect x="154.19" y="166.75" width="4.85" height="4.1" fill="#e3dfe5"/><rect x="159.83" y="166.75" width="4.85" height="4.1" fill="#e3dfe5"/><rect x="165.46" y="166.75" width="4.85" height="4.1" fill="#e3dfe5"/><rect x="52.80" y="171.35" width="4.85" height="4.1" fill="#e3dfe5"/><rect x="58.43" y="171.35" width="4.85" height="4.1" fill="#e3dfe5"/><rect x="64.07" y="171.35" width="4.85" height="4.1" fill="#e3dfe5"/><rect x="69.70" y="171.35" width="4.85" height="4.1" fill="#e3dfe5"/><rect x="75.33" y="171.35" width="4.85" height="4.1" fill="#e3dfe5"/><rect x="80.97" y="171.35" width="4.85" height="4.1" fill="#8b80be"/><rect x="86.60" y="171.35" width="4.85" height="4.1" fill="#e3dfe5"/><rect x="92.23" y="171.35" width="4.85" height="4.1" fill="#66a54a"/><rect x="97.86" y="171.35" width="4.85" height="4.1" fill="#e3dfe5"/><rect x="103.50" y="171.35" width="4.85" height="4.1" fill="#8b80be"/><rect x="109.13" y="171.35" width="4.85" height="4.1" fill="#e3dfe5"/><rect x="114.76" y="171.35" width="4.85" height="4.1" fill="#e3dfe5"/><rect x="120.40" y="171.35" width="4.85" height="4.1" fill="#e3dfe5"/><rect x="126.03" y="171.35" width="4.85" height="4.1" fill="#e3dfe5"/><rect x="131.66" y="171.35" width="4.85" height="4.1" fill="#e3dfe5"/><rect x="137.30" y="171.35" width="4.85" height="4.1" fill="#e3dfe5"/><rect x="142.93" y="171.35" width="4.85" height="4.1" fill="#e3dfe5"/><rect x="148.56" y="171.35" width="4.85" height="4.1" fill="#e3dfe5"/><rect x="154.19" y="171.35" width="4.85" height="4.1" fill="#e3dfe5"/><rect x="159.83" y="171.35" width="4.85" height="4.1" fill="#e3dfe5"/><rect x="165.46" y="171.35" width="4.85" height="4.1" fill="#e3dfe5"/><rect x="52.80" y="175.95" width="4.85" height="4.1" fill="#e3dfe5"/><rect x="58.43" y="175.95" width="4.85" height="4.1" fill="#e3dfe5"/><rect x="64.07" y="175.95" width="4.85" height="4.1" fill="#e3dfe5"/><rect x="69.70" y="175.95" width="4.85" height="4.1" fill="#66a54a"/><rect x="75.33" y="175.95" width="4.85" height="4.1" fill="#e3dfe5"/><rect x="80.97" y="175.95" width="4.85" height="4.1" fill="#e3dfe5"/><rect x="86.60" y="175.95" width="4.85" height="4.1" fill="#e3dfe5"/><rect x="92.23" y="175.95" width="4.85" height="4.1" fill="#e3dfe5"/><rect x="97.86" y="175.95" width="4.85" height="4.1" fill="#66a54a"/><rect x="103.50" y="175.95" width="4.85" height="4.1" fill="#66a54a"/><rect x="109.13" y="175.95" width="4.85" height="4.1" fill="#e3dfe5"/><rect x="114.76" y="175.95" width="4.85" height="4.1" fill="#e3dfe5"/><rect x="120.40" y="175.95" width="4.85" height="4.1" fill="#e3dfe5"/><rect x="126.03" y="175.95" width="4.85" height="4.1" fill="#e3dfe5"/><rect x="131.66" y="175.95" width="4.85" height="4.1" fill="#e3dfe5"/><rect x="137.30" y="175.95" width="4.85" height="4.1" fill="#e3dfe5"/><rect x="142.93" y="175.95" width="4.85" height="4.1" fill="#e3dfe5"/><rect x="148.56" y="175.95" width="4.85" height="4.1" fill="#e3dfe5"/><rect x="154.19" y="175.95" width="4.85" height="4.1" fill="#e3dfe5"/><rect x="159.83" y="175.95" width="4.85" height="4.1" fill="#e3dfe5"/><rect x="165.46" y="175.95" width="4.85" height="4.1" fill="#e3dfe5"/><rect x="52.80" y="180.55" width="4.85" height="4.1" fill="#e3dfe5"/><rect x="58.43" y="180.55" width="4.85" height="4.1" fill="#e3dfe5"/><rect x="64.07" y="180.55" width="4.85" height="4.1" fill="#e3dfe5"/><rect x="69.70" y="180.55" width="4.85" height="4.1" fill="#e3dfe5"/><rect x="75.33" y="180.55" width="4.85" height="4.1" fill="#e3dfe5"/><rect x="80.97" y="180.55" width="4.85" height="4.1" fill="#66a54a"/><rect x="86.60" y="180.55" width="4.85" height="4.1" fill="#e3dfe5"/><rect x="92.23" y="180.55" width="4.85" height="4.1" fill="#e3dfe5"/><rect x="97.86" y="180.55" width="4.85" height="4.1" fill="#e3dfe5"/><rect x="103.50" y="180.55" width="4.85" height="4.1" fill="#66a54a"/><rect x="109.13" y="180.55" width="4.85" height="4.1" fill="#e3dfe5"/><rect x="114.76" y="180.55" width="4.85" height="4.1" fill="#66a54a"/><rect x="120.40" y="180.55" width="4.85" height="4.1" fill="#e3dfe5"/><rect x="126.03" y="180.55" width="4.85" height="4.1" fill="#e3dfe5"/><rect x="131.66" y="180.55" width="4.85" height="4.1" fill="#e3dfe5"/><rect x="137.30" y="180.55" width="4.85" height="4.1" fill="#e3dfe5"/><rect x="142.93" y="180.55" width="4.85" height="4.1" fill="#e3dfe5"/><rect x="148.56" y="180.55" width="4.85" height="4.1" fill="#e3dfe5"/><rect x="154.19" y="180.55" width="4.85" height="4.1" fill="#e3dfe5"/><rect x="159.83" y="180.55" width="4.85" height="4.1" fill="#e3dfe5"/><rect x="165.46" y="180.55" width="4.85" height="4.1" fill="#e3dfe5"/><rect x="52.80" y="185.15" width="4.85" height="4.1" fill="#e3dfe5"/><rect x="58.43" y="185.15" width="4.85" height="4.1" fill="#e3dfe5"/><rect x="64.07" y="185.15" width="4.85" height="4.1" fill="#e3dfe5"/><rect x="69.70" y="185.15" width="4.85" height="4.1" fill="#e3dfe5"/><rect x="75.33" y="185.15" width="4.85" height="4.1" fill="#e3dfe5"/><rect x="80.97" y="185.15" width="4.85" height="4.1" fill="#e3dfe5"/><rect x="86.60" y="185.15" width="4.85" height="4.1" fill="#e3dfe5"/><rect x="92.23" y="185.15" width="4.85" height="4.1" fill="#66a54a"/><rect x="97.86" y="185.15" width="4.85" height="4.1" fill="#e3dfe5"/><rect x="103.50" y="185.15" width="4.85" height="4.1" fill="#e3dfe5"/><rect x="109.13" y="185.15" width="4.85" height="4.1" fill="#e3dfe5"/><rect x="114.76" y="185.15" width="4.85" height="4.1" fill="#e3dfe5"/><rect x="120.40" y="185.15" width="4.85" height="4.1" fill="#8b80be"/><rect x="126.03" y="185.15" width="4.85" height="4.1" fill="#e3dfe5"/><rect x="131.66" y="185.15" width="4.85" height="4.1" fill="#e3dfe5"/><rect x="137.30" y="185.15" width="4.85" height="4.1" fill="#e3dfe5"/><rect x="142.93" y="185.15" width="4.85" height="4.1" fill="#e3dfe5"/><rect x="148.56" y="185.15" width="4.85" height="4.1" fill="#e3dfe5"/><rect x="154.19" y="185.15" width="4.85" height="4.1" fill="#e3dfe5"/><rect x="159.83" y="185.15" width="4.85" height="4.1" fill="#e3dfe5"/><rect x="165.46" y="185.15" width="4.85" height="4.1" fill="#8b80be"/><rect x="52.80" y="189.75" width="4.85" height="4.1" fill="#e3dfe5"/><rect x="58.43" y="189.75" width="4.85" height="4.1" fill="#66a54a"/><rect x="64.07" y="189.75" width="4.85" height="4.1" fill="#e3dfe5"/><rect x="69.70" y="189.75" width="4.85" height="4.1" fill="#e3dfe5"/><rect x="75.33" y="189.75" width="4.85" height="4.1" fill="#e3dfe5"/><rect x="80.97" y="189.75" width="4.85" height="4.1" fill="#e3dfe5"/><rect x="86.60" y="189.75" width="4.85" height="4.1" fill="#e3dfe5"/><rect x="92.23" y="189.75" width="4.85" height="4.1" fill="#e3dfe5"/><rect x="97.86" y="189.75" width="4.85" height="4.1" fill="#e3dfe5"/><rect x="103.50" y="189.75" width="4.85" height="4.1" fill="#e3dfe5"/><rect x="109.13" y="189.75" width="4.85" height="4.1" fill="#e3dfe5"/><rect x="114.76" y="189.75" width="4.85" height="4.1" fill="#e3dfe5"/><rect x="120.40" y="189.75" width="4.85" height="4.1" fill="#e3dfe5"/><rect x="126.03" y="189.75" width="4.85" height="4.1" fill="#e3dfe5"/><rect x="131.66" y="189.75" width="4.85" height="4.1" fill="#e3dfe5"/><rect x="137.30" y="189.75" width="4.85" height="4.1" fill="#66a54a"/><rect x="142.93" y="189.75" width="4.85" height="4.1" fill="#e3dfe5"/><rect x="148.56" y="189.75" width="4.85" height="4.1" fill="#e3dfe5"/><rect x="154.19" y="189.75" width="4.85" height="4.1" fill="#e3dfe5"/><rect x="159.83" y="189.75" width="4.85" height="4.1" fill="#e3dfe5"/><rect x="165.46" y="189.75" width="4.85" height="4.1" fill="#66a54a"/><rect x="52.80" y="194.35" width="4.85" height="4.1" fill="#e3dfe5"/><rect x="58.43" y="194.35" width="4.85" height="4.1" fill="#e3dfe5"/><rect x="64.07" y="194.35" width="4.85" height="4.1" fill="#8b80be"/><rect x="69.70" y="194.35" width="4.85" height="4.1" fill="#e3dfe5"/><rect x="75.33" y="194.35" width="4.85" height="4.1" fill="#e3dfe5"/><rect x="80.97" y="194.35" width="4.85" height="4.1" fill="#e3dfe5"/><rect x="86.60" y="194.35" width="4.85" height="4.1" fill="#e3dfe5"/><rect x="92.23" y="194.35" width="4.85" height="4.1" fill="#66a54a"/><rect x="92.23" y="195.50" width="4.85" height="1.8" fill="#5ea6dd"/><rect x="97.86" y="194.35" width="4.85" height="4.1" fill="#e3dfe5"/><rect x="103.50" y="194.35" width="4.85" height="4.1" fill="#e3dfe5"/><rect x="109.13" y="194.35" width="4.85" height="4.1" fill="#e3dfe5"/><rect x="114.76" y="194.35" width="4.85" height="4.1" fill="#e3dfe5"/><rect x="120.40" y="194.35" width="4.85" height="4.1" fill="#e3dfe5"/><rect x="126.03" y="194.35" width="4.85" height="4.1" fill="#e3dfe5"/><rect x="131.66" y="194.35" width="4.85" height="4.1" fill="#e3dfe5"/><rect x="137.30" y="194.35" width="4.85" height="4.1" fill="#e3dfe5"/><rect x="142.93" y="194.35" width="4.85" height="4.1" fill="#e3dfe5"/><rect x="148.56" y="194.35" width="4.85" height="4.1" fill="#e3dfe5"/><rect x="154.19" y="194.35" width="4.85" height="4.1" fill="#e3dfe5"/><rect x="159.83" y="195.50" width="4.85" height="1.8" fill="#5ea6dd"/><rect x="165.46" y="194.35" width="4.85" height="4.1" fill="#e3dfe5"/><rect x="52.80" y="198.95" width="4.85" height="4.1" fill="#e3dfe5"/><rect x="58.43" y="198.95" width="4.85" height="4.1" fill="#e3dfe5"/><rect x="64.07" y="198.95" width="4.85" height="4.1" fill="#e3dfe5"/><rect x="69.70" y="198.95" width="4.85" height="4.1" fill="#e3dfe5"/><rect x="75.33" y="198.95" width="4.85" height="4.1" fill="#66a54a"/><rect x="80.97" y="198.95" width="4.85" height="4.1" fill="#e3dfe5"/><rect x="86.60" y="198.95" width="4.85" height="4.1" fill="#e3dfe5"/><rect x="92.23" y="198.95" width="4.85" height="4.1" fill="#e3dfe5"/><rect x="97.86" y="198.95" width="4.85" height="4.1" fill="#e3dfe5"/><rect x="103.50" y="198.95" width="4.85" height="4.1" fill="#66a54a"/><rect x="109.13" y="198.95" width="4.85" height="4.1" fill="#e3dfe5"/><rect x="114.76" y="198.95" width="4.85" height="4.1" fill="#e3dfe5"/><rect x="120.40" y="198.95" width="4.85" height="4.1" fill="#e3dfe5"/><rect x="126.03" y="198.95" width="4.85" height="4.1" fill="#e3dfe5"/><rect x="131.66" y="198.95" width="4.85" height="4.1" fill="#e3dfe5"/><rect x="137.30" y="198.95" width="4.85" height="4.1" fill="#66a54a"/><rect x="142.93" y="198.95" width="4.85" height="4.1" fill="#e3dfe5"/><rect x="148.56" y="198.95" width="4.85" height="4.1" fill="#e3dfe5"/><rect x="154.19" y="198.95" width="4.85" height="4.1" fill="#e3dfe5"/><rect x="159.83" y="198.95" width="4.85" height="4.1" fill="#e3dfe5"/><rect x="165.46" y="198.95" width="4.85" height="4.1" fill="#e3dfe5"/><rect x="52.80" y="203.55" width="4.85" height="4.1" fill="#e3dfe5"/><rect x="58.43" y="203.55" width="4.85" height="4.1" fill="#e3dfe5"/><rect x="64.07" y="203.55" width="4.85" height="4.1" fill="#e3dfe5"/><rect x="69.70" y="203.55" width="4.85" height="4.1" fill="#e3dfe5"/><rect x="75.33" y="203.55" width="4.85" height="4.1" fill="#e3dfe5"/><rect x="80.97" y="203.55" width="4.85" height="4.1" fill="#e3dfe5"/><rect x="86.60" y="203.55" width="4.85" height="4.1" fill="#66a54a"/><rect x="92.23" y="203.55" width="4.85" height="4.1" fill="#e3dfe5"/><rect x="97.86" y="203.55" width="4.85" height="4.1" fill="#e3dfe5"/><rect x="103.50" y="203.55" width="4.85" height="4.1" fill="#e3dfe5"/><rect x="109.13" y="203.55" width="4.85" height="4.1" fill="#e3dfe5"/><rect x="114.76" y="203.55" width="4.85" height="4.1" fill="#e3dfe5"/><rect x="120.40" y="203.55" width="4.85" height="4.1" fill="#e3dfe5"/><rect x="126.03" y="203.55" width="4.85" height="4.1" fill="#66a54a"/><rect x="131.66" y="203.55" width="4.85" height="4.1" fill="#e3dfe5"/><rect x="137.30" y="203.55" width="4.85" height="4.1" fill="#e3dfe5"/><rect x="142.93" y="203.55" width="4.85" height="4.1" fill="#66a54a"/><rect x="148.56" y="203.55" width="4.85" height="4.1" fill="#e3dfe5"/><rect x="154.19" y="203.55" width="4.85" height="4.1" fill="#e3dfe5"/><rect x="159.83" y="203.55" width="4.85" height="4.1" fill="#e3dfe5"/><rect x="165.46" y="203.55" width="4.85" height="4.1" fill="#e3dfe5"/><rect x="52.80" y="208.15" width="4.85" height="4.1" fill="#e3dfe5"/><rect x="58.43" y="208.15" width="4.85" height="4.1" fill="#e3dfe5"/><rect x="64.07" y="208.15" width="4.85" height="4.1" fill="#e3dfe5"/><rect x="69.70" y="208.15" width="4.85" height="4.1" fill="#e3dfe5"/><rect x="75.33" y="208.15" width="4.85" height="4.1" fill="#e3dfe5"/><rect x="80.97" y="208.15" width="4.85" height="4.1" fill="#e3dfe5"/><rect x="86.60" y="208.15" width="4.85" height="4.1" fill="#66a54a"/><rect x="92.23" y="208.15" width="4.85" height="4.1" fill="#e3dfe5"/><rect x="97.86" y="208.15" width="4.85" height="4.1" fill="#e3dfe5"/><rect x="103.50" y="208.15" width="4.85" height="4.1" fill="#e3dfe5"/><rect x="109.13" y="208.15" width="4.85" height="4.1" fill="#e3dfe5"/><rect x="114.76" y="208.15" width="4.85" height="4.1" fill="#e3dfe5"/><rect x="120.40" y="208.15" width="4.85" height="4.1" fill="#e3dfe5"/><rect x="126.03" y="208.15" width="4.85" height="4.1" fill="#e3dfe5"/><rect x="131.66" y="208.15" width="4.85" height="4.1" fill="#e3dfe5"/><rect x="137.30" y="208.15" width="4.85" height="4.1" fill="#66a54a"/><rect x="142.93" y="208.15" width="4.85" height="4.1" fill="#e3dfe5"/><rect x="148.56" y="208.15" width="4.85" height="4.1" fill="#e3dfe5"/><rect x="154.19" y="208.15" width="4.85" height="4.1" fill="#e3dfe5"/><rect x="159.83" y="208.15" width="4.85" height="4.1" fill="#e3dfe5"/><rect x="165.46" y="208.15" width="4.85" height="4.1" fill="#66a54a"/><rect x="52.80" y="212.75" width="4.85" height="4.1" fill="#e3dfe5"/><rect x="58.43" y="212.75" width="4.85" height="4.1" fill="#66a54a"/><rect x="64.07" y="212.75" width="4.85" height="4.1" fill="#e3dfe5"/><rect x="69.70" y="212.75" width="4.85" height="4.1" fill="#e3dfe5"/><rect x="75.33" y="212.75" width="4.85" height="4.1" fill="#e3dfe5"/><rect x="80.97" y="212.75" width="4.85" height="4.1" fill="#e3dfe5"/><rect x="86.60" y="212.75" width="4.85" height="4.1" fill="#e3dfe5"/><rect x="92.23" y="212.75" width="4.85" height="4.1" fill="#e3dfe5"/><rect x="97.86" y="212.75" width="4.85" height="4.1" fill="#e3dfe5"/><rect x="103.50" y="212.75" width="4.85" height="4.1" fill="#e3dfe5"/><rect x="109.13" y="212.75" width="4.85" height="4.1" fill="#66a54a"/><rect x="114.76" y="212.75" width="4.85" height="4.1" fill="#e3dfe5"/><rect x="120.40" y="212.75" width="4.85" height="4.1" fill="#e9ad2b"/><rect x="126.03" y="212.75" width="4.85" height="4.1" fill="#e3dfe5"/><rect x="131.66" y="212.75" width="4.85" height="4.1" fill="#e3dfe5"/><rect x="137.30" y="212.75" width="4.85" height="4.1" fill="#e3dfe5"/><rect x="142.93" y="212.75" width="4.85" height="4.1" fill="#e3dfe5"/><rect x="148.56" y="212.75" width="4.85" height="4.1" fill="#e3dfe5"/><rect x="154.19" y="212.75" width="4.85" height="4.1" fill="#e3dfe5"/><rect x="159.83" y="212.75" width="4.85" height="4.1" fill="#e3dfe5"/><rect x="165.46" y="212.75" width="4.85" height="4.1" fill="#e3dfe5"/><rect x="52.80" y="217.35" width="4.85" height="4.1" fill="#e3dfe5"/><rect x="58.43" y="217.35" width="4.85" height="4.1" fill="#8b80be"/><rect x="64.07" y="217.35" width="4.85" height="4.1" fill="#e3dfe5"/><rect x="69.70" y="217.35" width="4.85" height="4.1" fill="#e3dfe5"/><rect x="75.33" y="217.35" width="4.85" height="4.1" fill="#e3dfe5"/><rect x="80.97" y="217.35" width="4.85" height="4.1" fill="#e3dfe5"/><rect x="86.60" y="217.35" width="4.85" height="4.1" fill="#e3dfe5"/><rect x="92.23" y="217.35" width="4.85" height="4.1" fill="#e3dfe5"/><rect x="97.86" y="217.35" width="4.85" height="4.1" fill="#e3dfe5"/><rect x="103.50" y="217.35" width="4.85" height="4.1" fill="#e3dfe5"/><rect x="109.13" y="217.35" width="4.85" height="4.1" fill="#e3dfe5"/><rect x="114.76" y="217.35" width="4.85" height="4.1" fill="#e3dfe5"/><rect x="120.40" y="217.35" width="4.85" height="4.1" fill="#e3dfe5"/><rect x="126.03" y="217.35" width="4.85" height="4.1" fill="#e3dfe5"/><rect x="131.66" y="217.35" width="4.85" height="4.1" fill="#8b80be"/><rect x="137.30" y="217.35" width="4.85" height="4.1" fill="#e3dfe5"/><rect x="142.93" y="217.35" width="4.85" height="4.1" fill="#e3dfe5"/><rect x="148.56" y="217.35" width="4.85" height="4.1" fill="#e3dfe5"/><rect x="154.19" y="217.35" width="4.85" height="4.1" fill="#e3dfe5"/><rect x="159.83" y="217.35" width="4.85" height="4.1" fill="#e3dfe5"/><rect x="165.46" y="218.50" width="4.85" height="1.8" fill="#2c4b80"/><rect x="52.80" y="221.95" width="4.85" height="4.1" fill="#e3dfe5"/><rect x="58.43" y="221.95" width="4.85" height="4.1" fill="#66a54a"/><rect x="64.07" y="221.95" width="4.85" height="4.1" fill="#e3dfe5"/><rect x="69.70" y="221.95" width="4.85" height="4.1" fill="#e3dfe5"/><rect x="75.33" y="221.95" width="4.85" height="4.1" fill="#e3dfe5"/><rect x="80.97" y="221.95" width="4.85" height="4.1" fill="#e3dfe5"/><rect x="86.60" y="221.95" width="4.85" height="4.1" fill="#66a54a"/><rect x="92.23" y="221.95" width="4.85" height="4.1" fill="#e3dfe5"/><rect x="97.86" y="221.95" width="4.85" height="4.1" fill="#e3dfe5"/><rect x="103.50" y="221.95" width="4.85" height="4.1" fill="#e3dfe5"/><rect x="109.13" y="221.95" width="4.85" height="4.1" fill="#e3dfe5"/><rect x="114.76" y="221.95" width="4.85" height="4.1" fill="#e3dfe5"/><rect x="120.40" y="221.95" width="4.85" height="4.1" fill="#e3dfe5"/><rect x="126.03" y="221.95" width="4.85" height="4.1" fill="#e3dfe5"/><rect x="131.66" y="221.95" width="4.85" height="4.1" fill="#e3dfe5"/><rect x="137.30" y="221.95" width="4.85" height="4.1" fill="#66a54a"/><rect x="142.93" y="221.95" width="4.85" height="4.1" fill="#e3dfe5"/><rect x="148.56" y="221.95" width="4.85" height="4.1" fill="#e3dfe5"/><rect x="154.19" y="221.95" width="4.85" height="4.1" fill="#e3dfe5"/><rect x="159.83" y="221.95" width="4.85" height="4.1" fill="#e3dfe5"/><rect x="165.46" y="221.95" width="4.85" height="4.1" fill="#e3dfe5"/><rect x="52.80" y="226.55" width="4.85" height="4.1" fill="#66a54a"/><rect x="58.43" y="226.55" width="4.85" height="4.1" fill="#e3dfe5"/><rect x="64.07" y="226.55" width="4.85" height="4.1" fill="#e3dfe5"/><rect x="69.70" y="226.55" width="4.85" height="4.1" fill="#e3dfe5"/><rect x="75.33" y="226.55" width="4.85" height="4.1" fill="#e3dfe5"/><rect x="80.97" y="226.55" width="4.85" height="4.1" fill="#e3dfe5"/><rect x="86.60" y="226.55" width="4.85" height="4.1" fill="#e3dfe5"/><rect x="92.23" y="226.55" width="4.85" height="4.1" fill="#66a54a"/><rect x="97.86" y="226.55" width="4.85" height="4.1" fill="#e3dfe5"/><rect x="103.50" y="226.55" width="4.85" height="4.1" fill="#66a54a"/><rect x="109.13" y="226.55" width="4.85" height="4.1" fill="#e3dfe5"/><rect x="114.76" y="226.55" width="4.85" height="4.1" fill="#e3dfe5"/><rect x="120.40" y="226.55" width="4.85" height="4.1" fill="#e3dfe5"/><rect x="126.03" y="226.55" width="4.85" height="4.1" fill="#e3dfe5"/><rect x="131.66" y="226.55" width="4.85" height="4.1" fill="#e3dfe5"/><rect x="137.30" y="226.55" width="4.85" height="4.1" fill="#e3dfe5"/><rect x="142.93" y="226.55" width="4.85" height="4.1" fill="#e3dfe5"/><rect x="148.56" y="226.55" width="4.85" height="4.1" fill="#e3dfe5"/><rect x="154.19" y="226.55" width="4.85" height="4.1" fill="#e3dfe5"/><rect x="159.83" y="226.55" width="4.85" height="4.1" fill="#e3dfe5"/><rect x="165.46" y="226.55" width="4.85" height="4.1" fill="#e3dfe5"/><rect x="52.80" y="231.15" width="4.85" height="4.1" fill="#e3dfe5"/><rect x="58.43" y="231.15" width="4.85" height="4.1" fill="#e3dfe5"/><rect x="64.07" y="231.15" width="4.85" height="4.1" fill="#e3dfe5"/><rect x="69.70" y="231.15" width="4.85" height="4.1" fill="#e3dfe5"/><rect x="75.33" y="231.15" width="4.85" height="4.1" fill="#e3dfe5"/><rect x="80.97" y="231.15" width="4.85" height="4.1" fill="#e3dfe5"/><rect x="86.60" y="231.15" width="4.85" height="4.1" fill="#66a54a"/><rect x="92.23" y="231.15" width="4.85" height="4.1" fill="#e3dfe5"/><rect x="97.86" y="231.15" width="4.85" height="4.1" fill="#e3dfe5"/><rect x="103.50" y="231.15" width="4.85" height="4.1" fill="#e3dfe5"/><rect x="109.13" y="231.15" width="4.85" height="4.1" fill="#e3dfe5"/><rect x="114.76" y="231.15" width="4.85" height="4.1" fill="#e3dfe5"/><rect x="120.40" y="231.15" width="4.85" height="4.1" fill="#66a54a"/><rect x="126.03" y="231.15" width="4.85" height="4.1" fill="#e3dfe5"/><rect x="131.66" y="231.15" width="4.85" height="4.1" fill="#e3dfe5"/><rect x="137.30" y="231.15" width="4.85" height="4.1" fill="#e3dfe5"/><rect x="142.93" y="231.15" width="4.85" height="4.1" fill="#e3dfe5"/><rect x="148.56" y="231.15" width="4.85" height="4.1" fill="#66a54a"/><rect x="154.19" y="231.15" width="4.85" height="4.1" fill="#e3dfe5"/><rect x="159.83" y="231.15" width="4.85" height="4.1" fill="#e3dfe5"/><rect x="165.46" y="231.15" width="4.85" height="4.1" fill="#e3dfe5"/><rect x="52.80" y="235.75" width="4.85" height="4.1" fill="#e3dfe5"/><rect x="58.43" y="235.75" width="4.85" height="4.1" fill="#66a54a"/><rect x="64.07" y="235.75" width="4.85" height="4.1" fill="#e3dfe5"/><rect x="69.70" y="235.75" width="4.85" height="4.1" fill="#e3dfe5"/><rect x="75.33" y="235.75" width="4.85" height="4.1" fill="#e3dfe5"/><rect x="80.97" y="235.75" width="4.85" height="4.1" fill="#e3dfe5"/><rect x="86.60" y="235.75" width="4.85" height="4.1" fill="#e3dfe5"/><rect x="92.23" y="235.75" width="4.85" height="4.1" fill="#e3dfe5"/><rect x="97.86" y="235.75" width="4.85" height="4.1" fill="#e3dfe5"/><rect x="103.50" y="235.75" width="4.85" height="4.1" fill="#66a54a"/><rect x="103.50" y="236.90" width="4.85" height="1.8" fill="#2c4b80"/><rect x="109.13" y="235.75" width="4.85" height="4.1" fill="#e3dfe5"/><rect x="114.76" y="235.75" width="4.85" height="4.1" fill="#66a54a"/><rect x="120.40" y="235.75" width="4.85" height="4.1" fill="#e3dfe5"/><rect x="126.03" y="235.75" width="4.85" height="4.1" fill="#e3dfe5"/><rect x="131.66" y="235.75" width="4.85" height="4.1" fill="#e3dfe5"/><rect x="137.30" y="235.75" width="4.85" height="4.1" fill="#e3dfe5"/><rect x="142.93" y="235.75" width="4.85" height="4.1" fill="#e3dfe5"/><rect x="148.56" y="235.75" width="4.85" height="4.1" fill="#e3dfe5"/><rect x="154.19" y="235.75" width="4.85" height="4.1" fill="#e3dfe5"/><rect x="159.83" y="235.75" width="4.85" height="4.1" fill="#e3dfe5"/><rect x="165.46" y="235.75" width="4.85" height="4.1" fill="#e3dfe5"/><rect x="52.80" y="240.35" width="4.85" height="4.1" fill="#e3dfe5"/><rect x="58.43" y="240.35" width="4.85" height="4.1" fill="#e3dfe5"/><rect x="64.07" y="240.35" width="4.85" height="4.1" fill="#e3dfe5"/><rect x="69.70" y="240.35" width="4.85" height="4.1" fill="#e3dfe5"/><rect x="75.33" y="240.35" width="4.85" height="4.1" fill="#e3dfe5"/><rect x="80.97" y="240.35" width="4.85" height="4.1" fill="#e3dfe5"/><rect x="86.60" y="240.35" width="4.85" height="4.1" fill="#e3dfe5"/><rect x="92.23" y="240.35" width="4.85" height="4.1" fill="#e3dfe5"/><rect x="97.86" y="240.35" width="4.85" height="4.1" fill="#66a54a"/><rect x="103.50" y="240.35" width="4.85" height="4.1" fill="#e3dfe5"/><rect x="109.13" y="240.35" width="4.85" height="4.1" fill="#e3dfe5"/><rect x="114.76" y="240.35" width="4.85" height="4.1" fill="#e3dfe5"/><rect x="120.40" y="240.35" width="4.85" height="4.1" fill="#66a54a"/><rect x="126.03" y="240.35" width="4.85" height="4.1" fill="#e3dfe5"/><rect x="131.66" y="240.35" width="4.85" height="4.1" fill="#e3dfe5"/><rect x="137.30" y="240.35" width="4.85" height="4.1" fill="#e9ad2b"/><rect x="142.93" y="240.35" width="4.85" height="4.1" fill="#e3dfe5"/><rect x="148.56" y="240.35" width="4.85" height="4.1" fill="#e3dfe5"/><rect x="154.19" y="240.35" width="4.85" height="4.1" fill="#e3dfe5"/><rect x="159.83" y="240.35" width="4.85" height="4.1" fill="#e3dfe5"/><rect x="165.46" y="240.35" width="4.85" height="4.1" fill="#e3dfe5"/><rect x="52.80" y="244.95" width="4.85" height="4.1" fill="#e3dfe5"/><rect x="58.43" y="244.95" width="4.85" height="4.1" fill="#e3dfe5"/><rect x="64.07" y="244.95" width="4.85" height="4.1" fill="#66a54a"/><rect x="69.70" y="244.95" width="4.85" height="4.1" fill="#e3dfe5"/><rect x="75.33" y="244.95" width="4.85" height="4.1" fill="#e3dfe5"/><rect x="80.97" y="244.95" width="4.85" height="4.1" fill="#e3dfe5"/><rect x="86.60" y="244.95" width="4.85" height="4.1" fill="#e3dfe5"/><rect x="92.23" y="244.95" width="4.85" height="4.1" fill="#66a54a"/><rect x="97.86" y="244.95" width="4.85" height="4.1" fill="#e3dfe5"/><rect x="103.50" y="244.95" width="4.85" height="4.1" fill="#e3dfe5"/><rect x="109.13" y="244.95" width="4.85" height="4.1" fill="#e3dfe5"/><rect x="114.76" y="244.95" width="4.85" height="4.1" fill="#e3dfe5"/><rect x="120.40" y="244.95" width="4.85" height="4.1" fill="#e3dfe5"/><rect x="126.03" y="244.95" width="4.85" height="4.1" fill="#66a54a"/><rect x="131.66" y="244.95" width="4.85" height="4.1" fill="#e3dfe5"/><rect x="137.30" y="244.95" width="4.85" height="4.1" fill="#e3dfe5"/><rect x="142.93" y="244.95" width="4.85" height="4.1" fill="#e3dfe5"/><rect x="148.56" y="244.95" width="4.85" height="4.1" fill="#e3dfe5"/><rect x="154.19" y="244.95" width="4.85" height="4.1" fill="#e3dfe5"/><rect x="159.83" y="244.95" width="4.85" height="4.1" fill="#e3dfe5"/><rect x="165.46" y="244.95" width="4.85" height="4.1" fill="#e3dfe5"/><rect x="52.80" y="249.55" width="4.85" height="4.1" fill="#e3dfe5"/><rect x="58.43" y="249.55" width="4.85" height="4.1" fill="#e3dfe5"/><rect x="64.07" y="249.55" width="4.85" height="4.1" fill="#e3dfe5"/><rect x="69.70" y="249.55" width="4.85" height="4.1" fill="#e3dfe5"/><rect x="75.33" y="249.55" width="4.85" height="4.1" fill="#e3dfe5"/><rect x="80.97" y="249.55" width="4.85" height="4.1" fill="#e3dfe5"/><rect x="86.60" y="249.55" width="4.85" height="4.1" fill="#e3dfe5"/><rect x="92.23" y="249.55" width="4.85" height="4.1" fill="#66a54a"/><rect x="97.86" y="249.55" width="4.85" height="4.1" fill="#e3dfe5"/><rect x="103.50" y="249.55" width="4.85" height="4.1" fill="#e3dfe5"/><rect x="109.13" y="249.55" width="4.85" height="4.1" fill="#e3dfe5"/><rect x="114.76" y="249.55" width="4.85" height="4.1" fill="#e3dfe5"/><rect x="120.40" y="249.55" width="4.85" height="4.1" fill="#e3dfe5"/><rect x="126.03" y="249.55" width="4.85" height="4.1" fill="#e3dfe5"/><rect x="131.66" y="249.55" width="4.85" height="4.1" fill="#e3dfe5"/><rect x="137.30" y="249.55" width="4.85" height="4.1" fill="#66a54a"/><rect x="142.93" y="249.55" width="4.85" height="4.1" fill="#e3dfe5"/><rect x="148.56" y="249.55" width="4.85" height="4.1" fill="#66a54a"/><rect x="154.19" y="249.55" width="4.85" height="4.1" fill="#e3dfe5"/><rect x="159.83" y="249.55" width="4.85" height="4.1" fill="#e3dfe5"/><rect x="165.46" y="249.55" width="4.85" height="4.1" fill="#e3dfe5"/><rect x="52.80" y="254.15" width="4.85" height="4.1" fill="#e3dfe5"/><rect x="58.43" y="254.15" width="4.85" height="4.1" fill="#e3dfe5"/><rect x="64.07" y="254.15" width="4.85" height="4.1" fill="#e3dfe5"/><rect x="69.70" y="254.15" width="4.85" height="4.1" fill="#e3dfe5"/><rect x="75.33" y="254.15" width="4.85" height="4.1" fill="#e3dfe5"/><rect x="80.97" y="254.15" width="4.85" height="4.1" fill="#e3dfe5"/><rect x="86.60" y="254.15" width="4.85" height="4.1" fill="#e3dfe5"/><rect x="92.23" y="254.15" width="4.85" height="4.1" fill="#66a54a"/><rect x="92.23" y="255.30" width="4.85" height="1.8" fill="#2c4b80"/><rect x="97.86" y="254.15" width="4.85" height="4.1" fill="#e3dfe5"/><rect x="103.50" y="254.15" width="4.85" height="4.1" fill="#e3dfe5"/><rect x="109.13" y="255.30" width="4.85" height="1.8" fill="#2c4b80"/><rect x="114.76" y="254.15" width="4.85" height="4.1" fill="#e3dfe5"/><rect x="120.40" y="254.15" width="4.85" height="4.1" fill="#e3dfe5"/><rect x="126.03" y="254.15" width="4.85" height="4.1" fill="#e3dfe5"/><rect x="131.66" y="254.15" width="4.85" height="4.1" fill="#e3dfe5"/><rect x="137.30" y="254.15" width="4.85" height="4.1" fill="#e3dfe5"/><rect x="142.93" y="254.15" width="4.85" height="4.1" fill="#e3dfe5"/><rect x="148.56" y="254.15" width="4.85" height="4.1" fill="#66a54a"/><rect x="154.19" y="254.15" width="4.85" height="4.1" fill="#e3dfe5"/><rect x="159.83" y="254.15" width="4.85" height="4.1" fill="#e3dfe5"/><rect x="165.46" y="254.15" width="4.85" height="4.1" fill="#e3dfe5"/><rect x="52.80" y="258.75" width="4.85" height="4.1" fill="#e3dfe5"/><rect x="58.43" y="258.75" width="4.85" height="4.1" fill="#e3dfe5"/><rect x="64.07" y="258.75" width="4.85" height="4.1" fill="#e3dfe5"/><rect x="69.70" y="258.75" width="4.85" height="4.1" fill="#e3dfe5"/><rect x="75.33" y="258.75" width="4.85" height="4.1" fill="#e3dfe5"/><rect x="80.97" y="258.75" width="4.85" height="4.1" fill="#e3dfe5"/><rect x="86.60" y="258.75" width="4.85" height="4.1" fill="#e3dfe5"/><rect x="92.23" y="258.75" width="4.85" height="4.1" fill="#e3dfe5"/><rect x="97.86" y="258.75" width="4.85" height="4.1" fill="#e3dfe5"/><rect x="103.50" y="258.75" width="4.85" height="4.1" fill="#e3dfe5"/><rect x="109.13" y="258.75" width="4.85" height="4.1" fill="#e3dfe5"/><rect x="114.76" y="258.75" width="4.85" height="4.1" fill="#66a54a"/><rect x="120.40" y="258.75" width="4.85" height="4.1" fill="#e3dfe5"/><rect x="126.03" y="258.75" width="4.85" height="4.1" fill="#e3dfe5"/><rect x="131.66" y="258.75" width="4.85" height="4.1" fill="#e3dfe5"/><rect x="137.30" y="258.75" width="4.85" height="4.1" fill="#66a54a"/><rect x="142.93" y="258.75" width="4.85" height="4.1" fill="#e3dfe5"/><rect x="148.56" y="258.75" width="4.85" height="4.1" fill="#e3dfe5"/><rect x="154.19" y="258.75" width="4.85" height="4.1" fill="#e3dfe5"/><rect x="159.83" y="258.75" width="4.85" height="4.1" fill="#e3dfe5"/><rect x="165.46" y="258.75" width="4.85" height="4.1" fill="#66a54a"/><rect x="52.80" y="263.35" width="4.85" height="4.1" fill="#e3dfe5"/><rect x="58.43" y="263.35" width="4.85" height="4.1" fill="#66a54a"/><rect x="64.07" y="263.35" width="4.85" height="4.1" fill="#e3dfe5"/><rect x="69.70" y="263.35" width="4.85" height="4.1" fill="#e3dfe5"/><rect x="75.33" y="263.35" width="4.85" height="4.1" fill="#e3dfe5"/><rect x="80.97" y="263.35" width="4.85" height="4.1" fill="#e3dfe5"/><rect x="86.60" y="263.35" width="4.85" height="4.1" fill="#66a54a"/><rect x="92.23" y="263.35" width="4.85" height="4.1" fill="#e3dfe5"/><rect x="97.86" y="263.35" width="4.85" height="4.1" fill="#e3dfe5"/><rect x="103.50" y="263.35" width="4.85" height="4.1" fill="#e3dfe5"/><rect x="109.13" y="263.35" width="4.85" height="4.1" fill="#66a54a"/><rect x="114.76" y="263.35" width="4.85" height="4.1" fill="#e3dfe5"/><rect x="120.40" y="263.35" width="4.85" height="4.1" fill="#e3dfe5"/><rect x="126.03" y="263.35" width="4.85" height="4.1" fill="#e3dfe5"/><rect x="131.66" y="263.35" width="4.85" height="4.1" fill="#e3dfe5"/><rect x="137.30" y="263.35" width="4.85" height="4.1" fill="#e3dfe5"/><rect x="142.93" y="263.35" width="4.85" height="4.1" fill="#e3dfe5"/><rect x="148.56" y="263.35" width="4.85" height="4.1" fill="#e3dfe5"/><rect x="154.19" y="263.35" width="4.85" height="4.1" fill="#e3dfe5"/><rect x="159.83" y="263.35" width="4.85" height="4.1" fill="#e3dfe5"/><rect x="165.46" y="263.35" width="4.85" height="4.1" fill="#e3dfe5"/><rect x="52.80" y="267.95" width="4.85" height="4.1" fill="#e3dfe5"/><rect x="58.43" y="267.95" width="4.85" height="4.1" fill="#e3dfe5"/><rect x="64.07" y="267.95" width="4.85" height="4.1" fill="#e3dfe5"/><rect x="69.70" y="267.95" width="4.85" height="4.1" fill="#e3dfe5"/><rect x="75.33" y="267.95" width="4.85" height="4.1" fill="#e3dfe5"/><rect x="80.97" y="267.95" width="4.85" height="4.1" fill="#e3dfe5"/><rect x="86.60" y="267.95" width="4.85" height="4.1" fill="#e3dfe5"/><rect x="92.23" y="267.95" width="4.85" height="4.1" fill="#e3dfe5"/><rect x="97.86" y="267.95" width="4.85" height="4.1" fill="#e3dfe5"/><rect x="103.50" y="267.95" width="4.85" height="4.1" fill="#e3dfe5"/><rect x="109.13" y="267.95" width="4.85" height="4.1" fill="#e3dfe5"/><rect x="114.76" y="267.95" width="4.85" height="4.1" fill="#e3dfe5"/><rect x="120.40" y="267.95" width="4.85" height="4.1" fill="#e3dfe5"/><rect x="126.03" y="267.95" width="4.85" height="4.1" fill="#66a54a"/><rect x="131.66" y="267.95" width="4.85" height="4.1" fill="#e3dfe5"/><rect x="137.30" y="267.95" width="4.85" height="4.1" fill="#e3dfe5"/><rect x="142.93" y="267.95" width="4.85" height="4.1" fill="#e3dfe5"/><rect x="148.56" y="267.95" width="4.85" height="4.1" fill="#e3dfe5"/><rect x="154.19" y="267.95" width="4.85" height="4.1" fill="#e3dfe5"/><rect x="159.83" y="267.95" width="4.85" height="4.1" fill="#e3dfe5"/><rect x="165.46" y="267.95" width="4.85" height="4.1" fill="#66a54a"/>
<rect x="114" y="88.5" width="0.9" height="183.6" fill="#1a1a1a"/>
<text x="173.00" y="92.15" font-size="4.6" transform="rotate(0.05 173.00 92.15)">TP53</text><text x="173.00" y="96.75" font-size="4.6" transform="rotate(0.05 173.00 96.75)">TNFAIP3</text><text x="173.00" y="101.35" font-size="4.6" transform="rotate(0.05 173.00 101.35)">CD79B</text><text x="173.00" y="105.95" font-size="4.6" transform="rotate(0.05 173.00 105.95)">IGHM</text><text x="173.00" y="110.55" font-size="4.6" transform="rotate(0.05 173.00 110.55)">KMT2D</text><text x="173.00" y="115.15" font-size="4.6" transform="rotate(0.05 173.00 115.15)">PCLO</text><text x="173.00" y="119.75" font-size="4.6" transform="rotate(0.05 173.00 119.75)">PIM1</text><text x="173.00" y="124.35" font-size="4.6" transform="rotate(0.05 173.00 124.35)">SETD1B</text><text x="173.00" y="128.95" font-size="4.6" transform="rotate(0.05 173.00 128.95)">SGK1</text><text x="173.00" y="133.55" font-size="4.6" transform="rotate(0.05 173.00 133.55)">TNXB</text><text x="173.00" y="138.15" font-size="4.6" transform="rotate(0.05 173.00 138.15)">TTN</text><text x="173.00" y="142.75" font-size="4.6" transform="rotate(0.05 173.00 142.75)">TUBGCP6</text><text x="173.00" y="147.35" font-size="4.6" transform="rotate(0.05 173.00 147.35)">ZC3H12A</text><text x="173.00" y="151.95" font-size="4.6" transform="rotate(0.05 173.00 151.95)">ADGRB1</text><text x="173.00" y="156.55" font-size="4.6" transform="rotate(0.05 173.00 156.55)">B2M</text><text x="173.00" y="161.15" font-size="4.6" transform="rotate(0.05 173.00 161.15)">CD70</text><text x="173.00" y="165.75" font-size="4.6" transform="rotate(0.05 173.00 165.75)">CREBBP</text><text x="173.00" y="170.35" font-size="4.6" transform="rotate(0.05 173.00 170.35)">CSMD3</text><text x="173.00" y="174.95" font-size="4.6" transform="rotate(0.05 173.00 174.95)">CUL5</text><text x="173.00" y="179.55" font-size="4.6" transform="rotate(0.05 173.00 179.55)">DSG3</text><text x="173.00" y="184.15" font-size="4.6" transform="rotate(0.05 173.00 184.15)">FAT1</text><text x="173.00" y="188.75" font-size="4.6" transform="rotate(0.05 173.00 188.75)">HLA-B</text><text x="173.00" y="193.35" font-size="4.6" transform="rotate(0.05 173.00 193.35)">IGF1R</text><text x="173.00" y="197.95" font-size="4.6" transform="rotate(0.05 173.00 197.95)">ITPKB</text><text x="173.00" y="202.55" font-size="4.6" transform="rotate(0.05 173.00 202.55)">JUNB</text><text x="173.00" y="207.15" font-size="4.6" transform="rotate(0.05 173.00 207.15)">KALRN</text><text x="173.00" y="211.75" font-size="4.6" transform="rotate(0.05 173.00 211.75)">LRP1B</text><text x="173.00" y="216.35" font-size="4.6" transform="rotate(0.05 173.00 216.35)">LTB</text><text x="173.00" y="220.95" font-size="4.6" transform="rotate(0.05 173.00 220.95)">NOTCH2</text><text x="173.00" y="225.55" font-size="4.6" transform="rotate(0.05 173.00 225.55)">PCDH10</text><text x="173.00" y="230.15" font-size="4.6" transform="rotate(0.05 173.00 230.15)">PCM1</text><text x="173.00" y="234.75" font-size="4.6" transform="rotate(0.05 173.00 234.75)">RASGRP2</text><text x="173.00" y="239.35" font-size="4.6" transform="rotate(0.05 173.00 239.35)">RGS1</text><text x="173.00" y="243.95" font-size="4.6" transform="rotate(0.05 173.00 243.95)">SDK1</text><text x="173.00" y="248.55" font-size="4.6" transform="rotate(0.05 173.00 248.55)">SEMA3F</text><text x="173.00" y="253.15" font-size="4.6" transform="rotate(0.05 173.00 253.15)">SLITRK5</text><text x="173.00" y="257.75" font-size="4.6" transform="rotate(0.05 173.00 257.75)">SOCS1</text><text x="173.00" y="262.35" font-size="4.6" transform="rotate(0.05 173.00 262.35)">TMSB4X</text><text x="173.00" y="266.95" font-size="4.6" transform="rotate(0.05 173.00 266.95)">ZFHX3</text><text x="173.00" y="271.55" font-size="4.6" transform="rotate(0.05 173.00 271.55)">CARD11</text>

<defs>
<linearGradient id="gl" x1="0" x2="1" y1="0" y2="0"><stop offset="0" stop-color="#9c2340"/><stop offset="0.5" stop-color="#cc6a80"/><stop offset="1" stop-color="#fff"/></linearGradient>
<linearGradient id="gr" x1="0" x2="1" y1="0" y2="0"><stop offset="0" stop-color="#fff"/><stop offset="0.5" stop-color="#a3afc8"/><stop offset="1" stop-color="#405880"/></linearGradient>
</defs>
<path d="M250.8 59.2 L254.4 56 L254.4 57.5 L288.4 57.5 L288.4 60.8 L254.4 60.8 L254.4 62.4 Z" fill="url(#gl)" stroke="#3a1a20" stroke-width="0.45"/>
<path d="M330 59.2 L325.8 55.9 L325.8 57.4 L292.3 57.4 L292.3 60.7 L325.8 60.7 L325.8 62.6 Z" fill="url(#gr)" stroke="#1e2a40" stroke-width="0.45"/>
<text x="269.40" y="48.10" font-size="4.7" transform="rotate(0.05 269.40 48.10)" textLength="13.47" lengthAdjust="spacingAndGlyphs" text-anchor="middle">PD-L1</text>
<text x="269.75" y="54.30" font-size="4.7" transform="rotate(0.05 269.75 54.30)" textLength="15.57" lengthAdjust="spacingAndGlyphs" text-anchor="middle">altered</text>
<text x="310.70" y="47.90" font-size="4.7" transform="rotate(0.05 310.70 47.90)" textLength="13.57" lengthAdjust="spacingAndGlyphs" text-anchor="middle">PD-L1</text>
<text x="310.65" y="54.40" font-size="4.7" transform="rotate(0.05 310.65 54.40)" textLength="25.17" lengthAdjust="spacingAndGlyphs" text-anchor="middle">not-altered</text>
<text x="245.56" y="72.00" font-size="6.8" transform="rotate(0.05 245.56 72.00)" textLength="88.88" lengthAdjust="spacingAndGlyphs" class="b">Number of mutated samples</text>
<g stroke="#231f20" stroke-width="0.7">
<line x1="248.8" y1="88.2" x2="332.4" y2="88.2"/>
<line x1="251.42" y1="85.8" x2="251.42" y2="88.3"/><line x1="264.38" y1="85.8" x2="264.38" y2="88.3"/><line x1="277.34" y1="85.8" x2="277.34" y2="88.3"/><line x1="290.30" y1="85.8" x2="290.30" y2="88.3"/><line x1="303.26" y1="85.8" x2="303.26" y2="88.3"/><line x1="316.22" y1="85.8" x2="316.22" y2="88.3"/><line x1="329.18" y1="85.8" x2="329.18" y2="88.3"/>
</g>
<text x="251.42" y="81.50" font-size="4.9" transform="rotate(0.05 251.42 81.50)" textLength="3.24" lengthAdjust="spacingAndGlyphs" text-anchor="middle">6</text><text x="264.38" y="81.50" font-size="4.9" transform="rotate(0.05 264.38 81.50)" textLength="3.24" lengthAdjust="spacingAndGlyphs" text-anchor="middle">4</text><text x="277.34" y="81.50" font-size="4.9" transform="rotate(0.05 277.34 81.50)" textLength="3.24" lengthAdjust="spacingAndGlyphs" text-anchor="middle">2</text><text x="290.30" y="81.50" font-size="4.9" transform="rotate(0.05 290.30 81.50)" textLength="3.24" lengthAdjust="spacingAndGlyphs" text-anchor="middle">0</text><text x="303.26" y="81.50" font-size="4.9" transform="rotate(0.05 303.26 81.50)" textLength="3.24" lengthAdjust="spacingAndGlyphs" text-anchor="middle">2</text><text x="316.22" y="81.50" font-size="4.9" transform="rotate(0.05 316.22 81.50)" textLength="3.24" lengthAdjust="spacingAndGlyphs" text-anchor="middle">4</text><text x="329.18" y="81.50" font-size="4.9" transform="rotate(0.05 329.18 81.50)" textLength="3.24" lengthAdjust="spacingAndGlyphs" text-anchor="middle">6</text>
<rect x="251.42" y="88.95" width="38.88" height="3.3" fill="#a51f3a"/><rect x="290.30" y="88.95" width="12.96" height="3.3" fill="#3f5e90"/><rect x="251.42" y="93.55" width="38.88" height="3.3" fill="#a51f3a"/><rect x="283.82" y="98.15" width="6.48" height="3.3" fill="#a51f3a"/><rect x="290.30" y="98.15" width="25.92" height="3.3" fill="#3f5e90"/><rect x="270.86" y="102.75" width="19.44" height="3.3" fill="#a51f3a"/><rect x="290.30" y="102.75" width="12.96" height="3.3" fill="#3f5e90"/><rect x="270.86" y="107.35" width="19.44" height="3.3" fill="#a51f3a"/><rect x="290.30" y="107.35" width="12.96" height="3.3" fill="#3f5e90"/><rect x="270.86" y="111.95" width="19.44" height="3.3" fill="#a51f3a"/><rect x="290.30" y="111.95" width="12.96" height="3.3" fill="#3f5e90"/><rect x="283.82" y="116.55" width="6.48" height="3.3" fill="#a51f3a"/><rect x="290.30" y="116.55" width="19.44" height="3.3" fill="#3f5e90"/><rect x="277.34" y="121.15" width="12.96" height="3.3" fill="#a51f3a"/><rect x="290.30" y="121.15" width="12.96" height="3.3" fill="#3f5e90"/><rect x="264.38" y="125.75" width="25.92" height="3.3" fill="#a51f3a"/><rect x="270.86" y="130.35" width="19.44" height="3.3" fill="#a51f3a"/><rect x="290.30" y="130.35" width="6.48" height="3.3" fill="#3f5e90"/><rect x="270.86" y="134.95" width="19.44" height="3.3" fill="#a51f3a"/><rect x="290.30" y="134.95" width="6.48" height="3.3" fill="#3f5e90"/><rect x="270.86" y="139.55" width="19.44" height="3.3" fill="#a51f3a"/><rect x="290.30" y="139.55" width="6.48" height="3.3" fill="#3f5e90"/><rect x="277.34" y="144.15" width="12.96" height="3.3" fill="#a51f3a"/><rect x="290.30" y="144.15" width="12.96" height="3.3" fill="#3f5e90"/><rect x="277.34" y="148.75" width="12.96" height="3.3" fill="#a51f3a"/><rect x="290.30" y="148.75" width="6.48" height="3.3" fill="#3f5e90"/><rect x="277.34" y="153.35" width="12.96" height="3.3" fill="#a51f3a"/><rect x="290.30" y="153.35" width="6.48" height="3.3" fill="#3f5e90"/><rect x="277.34" y="157.95" width="12.96" height="3.3" fill="#a51f3a"/><rect x="290.30" y="157.95" width="6.48" height="3.3" fill="#3f5e90"/><rect x="270.86" y="162.55" width="19.44" height="3.3" fill="#a51f3a"/><rect x="283.82" y="167.15" width="6.48" height="3.3" fill="#a51f3a"/><rect x="290.30" y="167.15" width="12.96" height="3.3" fill="#3f5e90"/><rect x="270.86" y="171.75" width="19.44" height="3.3" fill="#a51f3a"/><rect x="270.86" y="176.35" width="19.44" height="3.3" fill="#a51f3a"/><rect x="277.34" y="180.95" width="12.96" height="3.3" fill="#a51f3a"/><rect x="290.30" y="180.95" width="6.48" height="3.3" fill="#3f5e90"/><rect x="283.82" y="185.55" width="6.48" height="3.3" fill="#a51f3a"/><rect x="290.30" y="185.55" width="12.96" height="3.3" fill="#3f5e90"/><rect x="283.82" y="190.15" width="6.48" height="3.3" fill="#a51f3a"/><rect x="290.30" y="190.15" width="12.96" height="3.3" fill="#3f5e90"/><rect x="277.34" y="194.75" width="12.96" height="3.3" fill="#a51f3a"/><rect x="290.30" y="194.75" width="6.48" height="3.3" fill="#3f5e90"/><rect x="277.34" y="199.35" width="12.96" height="3.3" fill="#a51f3a"/><rect x="290.30" y="199.35" width="6.48" height="3.3" fill="#3f5e90"/><rect x="283.82" y="203.95" width="6.48" height="3.3" fill="#a51f3a"/><rect x="290.30" y="203.95" width="12.96" height="3.3" fill="#3f5e90"/><rect x="283.82" y="208.55" width="6.48" height="3.3" fill="#a51f3a"/><rect x="290.30" y="208.55" width="12.96" height="3.3" fill="#3f5e90"/><rect x="277.34" y="213.15" width="12.96" height="3.3" fill="#a51f3a"/><rect x="290.30" y="213.15" width="6.48" height="3.3" fill="#3f5e90"/><rect x="283.82" y="217.75" width="6.48" height="3.3" fill="#a51f3a"/><rect x="290.30" y="217.75" width="12.96" height="3.3" fill="#3f5e90"/><rect x="277.34" y="222.35" width="12.96" height="3.3" fill="#a51f3a"/><rect x="290.30" y="222.35" width="6.48" height="3.3" fill="#3f5e90"/><rect x="270.86" y="226.95" width="19.44" height="3.3" fill="#a51f3a"/><rect x="283.82" y="231.55" width="6.48" height="3.3" fill="#a51f3a"/><rect x="290.30" y="231.55" width="12.96" height="3.3" fill="#3f5e90"/><rect x="277.34" y="236.15" width="12.96" height="3.3" fill="#a51f3a"/><rect x="290.30" y="236.15" width="6.48" height="3.3" fill="#3f5e90"/><rect x="283.82" y="240.75" width="6.48" height="3.3" fill="#a51f3a"/><rect x="290.30" y="240.75" width="12.96" height="3.3" fill="#3f5e90"/><rect x="277.34" y="245.35" width="12.96" height="3.3" fill="#a51f3a"/><rect x="290.30" y="245.35" width="6.48" height="3.3" fill="#3f5e90"/><rect x="283.82" y="249.95" width="6.48" height="3.3" fill="#a51f3a"/><rect x="290.30" y="249.95" width="12.96" height="3.3" fill="#3f5e90"/><rect x="277.34" y="254.55" width="12.96" height="3.3" fill="#a51f3a"/><rect x="290.30" y="254.55" width="6.48" height="3.3" fill="#3f5e90"/><rect x="290.30" y="259.15" width="19.44" height="3.3" fill="#3f5e90"/><rect x="270.86" y="263.75" width="19.44" height="3.3" fill="#a51f3a"/><rect x="290.30" y="268.35" width="12.96" height="3.3" fill="#3f5e90"/>
<rect x="289.9" y="88.2" width="0.8" height="186.4" fill="#1a1a1a"/>

<rect x="349" y="24.3" width="163.8" height="88.5" fill="none" stroke="#231f20" stroke-width="0.9"/>
<line x1="349" y1="50.7" x2="512.8" y2="50.7" stroke="#231f20" stroke-width="0.9"/>
<text x="439.70" y="33.40" font-size="4.5" transform="rotate(0.05 439.70 33.40)" textLength="13.45" lengthAdjust="spacingAndGlyphs" text-anchor="middle">PD-L1</text>
<text x="439.90" y="39.40" font-size="4.5" transform="rotate(0.05 439.90 39.40)" textLength="16.45" lengthAdjust="spacingAndGlyphs" text-anchor="middle">Altered</text>
<text x="439.95" y="44.90" font-size="4.5" transform="rotate(0.05 439.95 44.90)" textLength="15.55" lengthAdjust="spacingAndGlyphs" text-anchor="middle">(n=11)</text>
<text x="492.80" y="34.50" font-size="4.5" transform="rotate(0.05 492.80 34.50)" textLength="13.45" lengthAdjust="spacingAndGlyphs" text-anchor="middle">PD-L1</text>
<text x="492.55" y="40.70" font-size="4.5" transform="rotate(0.05 492.55 40.70)" textLength="26.15" lengthAdjust="spacingAndGlyphs" text-anchor="middle">Not altered</text>
<text x="492.80" y="46.40" font-size="4.5" transform="rotate(0.05 492.80 46.40)" textLength="15.85" lengthAdjust="spacingAndGlyphs" text-anchor="middle">(n=10)</text>
<text x="440.00" y="59.70" font-size="4.5" transform="rotate(0.05 440.00 59.70)" text-anchor="middle">6</text><text x="492.60" y="59.70" font-size="4.5" transform="rotate(0.05 492.60 59.70)" text-anchor="middle">3</text>
<text x="440.00" y="75.10" font-size="4.5" transform="rotate(0.05 440.00 75.10)" text-anchor="middle">2</text><text x="492.60" y="75.10" font-size="4.5" transform="rotate(0.05 492.60 75.10)" text-anchor="middle">1</text>
<text x="440.00" y="91.80" font-size="4.5" transform="rotate(0.05 440.00 91.80)" text-anchor="middle">3</text><text x="492.60" y="91.80" font-size="4.5" transform="rotate(0.05 492.60 91.80)" text-anchor="middle">1</text>
<text x="440.00" y="108.00" font-size="4.5" transform="rotate(0.05 440.00 108.00)" text-anchor="middle">11</text><text x="492.60" y="108.00" font-size="4.5" transform="rotate(0.05 492.60 108.00)" text-anchor="middle">5</text>
<text x="354.57" y="59.30" font-size="4.5" transform="rotate(0.05 354.57 59.30)" textLength="41.45" lengthAdjust="spacingAndGlyphs">HLA Class I or B2M</text>
<text x="354.57" y="74.70" font-size="4.5" transform="rotate(0.05 354.57 74.70)" textLength="37.45" lengthAdjust="spacingAndGlyphs">HLA Class II/CIITA</text>
<text x="354.57" y="91.50" font-size="4.5" transform="rotate(0.05 354.57 91.50)" textLength="39.65" lengthAdjust="spacingAndGlyphs">CD58/CD70/CD83</text>
<text x="354.57" y="107.60" font-size="4.5" transform="rotate(0.05 354.57 107.60)" textLength="11.05" lengthAdjust="spacingAndGlyphs">Total</text>

<g stroke="#231f20" stroke-width="1.1">
<line x1="375.2" y1="140.8" x2="375.2" y2="250"/>
<line x1="372" y1="249.5" x2="502.1" y2="249.5"/>
<line x1="409.9" y1="249.5" x2="409.9" y2="252"/>
<line x1="467.9" y1="249.5" x2="467.9" y2="252"/>
<line x1="372" y1="249.50" x2="375" y2="249.50"/><line x1="372" y1="238.86" x2="375" y2="238.86"/><line x1="372" y1="228.22" x2="375" y2="228.22"/><line x1="372" y1="217.58" x2="375" y2="217.58"/><line x1="372" y1="206.94" x2="375" y2="206.94"/><line x1="372" y1="196.30" x2="375" y2="196.30"/><line x1="372" y1="185.66" x2="375" y2="185.66"/><line x1="372" y1="175.02" x2="375" y2="175.02"/><line x1="372" y1="164.38" x2="375" y2="164.38"/><line x1="372" y1="153.74" x2="375" y2="153.74"/><line x1="372" y1="143.10" x2="375" y2="143.10"/>
</g>
<text x="369.50" y="251.25" font-size="4.9" transform="rotate(0.05 369.50 251.25)" textLength="3.42" lengthAdjust="spacingAndGlyphs" text-anchor="end">0</text><text x="369.50" y="240.61" font-size="4.9" transform="rotate(0.05 369.50 240.61)" textLength="6.35" lengthAdjust="spacingAndGlyphs" text-anchor="end">25</text><text x="369.50" y="229.97" font-size="4.9" transform="rotate(0.05 369.50 229.97)" textLength="6.35" lengthAdjust="spacingAndGlyphs" text-anchor="end">50</text><text x="369.50" y="219.33" font-size="4.9" transform="rotate(0.05 369.50 219.33)" textLength="6.35" lengthAdjust="spacingAndGlyphs" text-anchor="end">75</text><text x="369.50" y="208.69" font-size="4.9" transform="rotate(0.05 369.50 208.69)" textLength="9.28" lengthAdjust="spacingAndGlyphs" text-anchor="end">100</text><text x="369.50" y="198.05" font-size="4.9" transform="rotate(0.05 369.50 198.05)" textLength="9.28" lengthAdjust="spacingAndGlyphs" text-anchor="end">125</text><text x="369.50" y="187.41" font-size="4.9" transform="rotate(0.05 369.50 187.41)" textLength="9.28" lengthAdjust="spacingAndGlyphs" text-anchor="end">150</text><text x="369.50" y="176.77" font-size="4.9" transform="rotate(0.05 369.50 176.77)" textLength="9.28" lengthAdjust="spacingAndGlyphs" text-anchor="end">175</text><text x="369.50" y="166.13" font-size="4.9" transform="rotate(0.05 369.50 166.13)" textLength="9.28" lengthAdjust="spacingAndGlyphs" text-anchor="end">200</text><text x="369.50" y="155.49" font-size="4.9" transform="rotate(0.05 369.50 155.49)" textLength="9.28" lengthAdjust="spacingAndGlyphs" text-anchor="end">225</text><text x="369.50" y="144.85" font-size="4.9" transform="rotate(0.05 369.50 144.85)" textLength="9.28" lengthAdjust="spacingAndGlyphs" text-anchor="end">250</text>
<text transform="translate(354.70,194.90) rotate(-89.95)" x="0" y="0" font-size="5.9" text-anchor="middle" textLength="37.89" lengthAdjust="spacingAndGlyphs" class="b">No. of NSSM</text>
<g stroke="#3d3d3d" stroke-width="0.95" fill="none">
<line x1="410.1" y1="191.4" x2="410.1" y2="210.5"/>
<line x1="410.1" y1="233.5" x2="410.1" y2="240.6"/>
<rect x="395.6" y="210.5" width="29" height="23"/>
<line x1="395.5" y1="216.9" x2="424.6" y2="216.9"/>
<line x1="467.9" y1="164" x2="467.9" y2="189.3"/>
<line x1="467.9" y1="225.5" x2="467.9" y2="237.4"/>
<rect x="453.1" y="189.3" width="29.9" height="36.2"/>
<line x1="453.1" y1="210.4" x2="483" y2="210.4"/>
</g>
<circle cx="416.3" cy="191.2" r="1.3" fill="#2a4684"/><circle cx="410.1" cy="206.2" r="1.3" fill="#2a4684"/><circle cx="398.2" cy="209.9" r="1.3" fill="#2a4684"/><circle cx="411.3" cy="212.7" r="1.3" fill="#2a4684"/><circle cx="416.1" cy="212.2" r="1.3" fill="#2a4684"/><circle cx="400.2" cy="223.5" r="1.3" fill="#2a4684"/><circle cx="411.3" cy="221.3" r="1.3" fill="#2a4684"/><circle cx="406.1" cy="236.3" r="1.3" fill="#2a4684"/><circle cx="409" cy="239.1" r="1.3" fill="#2a4684"/><circle cx="404.4" cy="241.4" r="1.3" fill="#2a4684"/>
<circle cx="470.6" cy="164.6" r="1.3" fill="#a3142f"/><circle cx="475" cy="163" r="1.3" fill="#a3142f"/><circle cx="473.4" cy="187.3" r="1.3" fill="#a3142f"/><circle cx="470.6" cy="192.4" r="1.3" fill="#a3142f"/><circle cx="465.4" cy="195.6" r="1.3" fill="#a3142f"/><circle cx="471.8" cy="210.3" r="1.3" fill="#a3142f"/><circle cx="458.4" cy="226.9" r="1.3" fill="#a3142f"/><circle cx="463.8" cy="224" r="1.3" fill="#a3142f"/><circle cx="470.9" cy="224.3" r="1.3" fill="#a3142f"/><circle cx="477.6" cy="226.9" r="1.3" fill="#a3142f"/><circle cx="457.1" cy="238" r="1.3" fill="#a3142f"/>
<text x="409.80" y="260.20" font-size="4.8" transform="rotate(0.05 409.80 260.20)" textLength="25.48" lengthAdjust="spacingAndGlyphs" text-anchor="middle">Not-altered</text>
<text x="467.90" y="260.20" font-size="4.8" transform="rotate(0.05 467.90 260.20)" textLength="15.88" lengthAdjust="spacingAndGlyphs" text-anchor="middle">Altered</text>
</svg>
</body></html>
